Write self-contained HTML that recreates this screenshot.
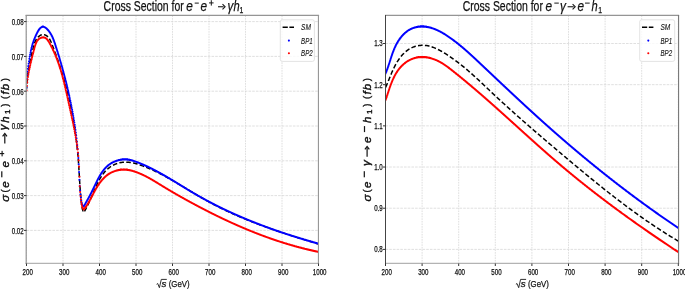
<!DOCTYPE html>
<html><head><meta charset="utf-8"><style>
html,body{margin:0;padding:0;background:#fff;}
svg{display:block;will-change:transform;}
text{font-family:"Liberation Sans", sans-serif;fill:#111;stroke:#111;stroke-width:0.25;}
.grid{stroke:#d8d8d8;stroke-width:0.8;stroke-dasharray:2.6 1.1;fill:none;}
.gridv{stroke:#d6d6d6;stroke-width:0.8;stroke-dasharray:1.6 1.0;fill:none;}
.spine{fill:none;stroke:#808080;stroke-width:1;}
.tick{stroke:#333;stroke-width:1;}
.sm{fill:none;stroke:#000;stroke-width:1.5;stroke-dasharray:4.6 2.3;}
.bp1{fill:none;stroke:#0000ff;stroke-width:2.1;stroke-linecap:round;}
.bp2{fill:none;stroke:#ff0000;stroke-width:2.1;stroke-linecap:round;}
.leg{fill:#fff;fill-opacity:0.8;stroke:#dcdcdc;stroke-width:0.8;}
.legdash{stroke:#000;stroke-width:1.6;stroke-dasharray:5.2 1.6;}
.sqrt{fill:none;stroke:#1a1a1a;stroke-width:0.9;}
</style></head><body>
<svg width="685" height="289" viewBox="0 0 685 289">
<defs>
<clipPath id="cl"><rect x="26.5" y="15.5" width="292.0" height="248.0"/></clipPath>
<clipPath id="cr"><rect x="385.5" y="15.5" width="293.0" height="248.0"/></clipPath>
</defs>
<rect width="685" height="289" fill="#fff"/>
<line x1="26.50" y1="15.5" x2="26.50" y2="263.5" class="gridv"/>
<line x1="63.00" y1="15.5" x2="63.00" y2="263.5" class="gridv"/>
<line x1="99.50" y1="15.5" x2="99.50" y2="263.5" class="gridv"/>
<line x1="136.00" y1="15.5" x2="136.00" y2="263.5" class="gridv"/>
<line x1="172.50" y1="15.5" x2="172.50" y2="263.5" class="gridv"/>
<line x1="209.00" y1="15.5" x2="209.00" y2="263.5" class="gridv"/>
<line x1="245.50" y1="15.5" x2="245.50" y2="263.5" class="gridv"/>
<line x1="282.00" y1="15.5" x2="282.00" y2="263.5" class="gridv"/>
<line x1="318.50" y1="15.5" x2="318.50" y2="263.5" class="gridv"/>
<line x1="26.5" y1="230.40" x2="318.5" y2="230.40" class="grid"/>
<line x1="26.5" y1="195.60" x2="318.5" y2="195.60" class="grid"/>
<line x1="26.5" y1="160.80" x2="318.5" y2="160.80" class="grid"/>
<line x1="26.5" y1="126.00" x2="318.5" y2="126.00" class="grid"/>
<line x1="26.5" y1="91.20" x2="318.5" y2="91.20" class="grid"/>
<line x1="26.5" y1="56.40" x2="318.5" y2="56.40" class="grid"/>
<line x1="26.5" y1="21.60" x2="318.5" y2="21.60" class="grid"/>
<line x1="385.50" y1="15.5" x2="385.50" y2="263.5" class="gridv"/>
<line x1="422.10" y1="15.5" x2="422.10" y2="263.5" class="gridv"/>
<line x1="458.70" y1="15.5" x2="458.70" y2="263.5" class="gridv"/>
<line x1="495.30" y1="15.5" x2="495.30" y2="263.5" class="gridv"/>
<line x1="531.90" y1="15.5" x2="531.90" y2="263.5" class="gridv"/>
<line x1="568.50" y1="15.5" x2="568.50" y2="263.5" class="gridv"/>
<line x1="605.10" y1="15.5" x2="605.10" y2="263.5" class="gridv"/>
<line x1="641.70" y1="15.5" x2="641.70" y2="263.5" class="gridv"/>
<line x1="678.30" y1="15.5" x2="678.30" y2="263.5" class="gridv"/>
<line x1="385.5" y1="249.40" x2="678.5" y2="249.40" class="grid"/>
<line x1="385.5" y1="208.22" x2="678.5" y2="208.22" class="grid"/>
<line x1="385.5" y1="167.04" x2="678.5" y2="167.04" class="grid"/>
<line x1="385.5" y1="125.86" x2="678.5" y2="125.86" class="grid"/>
<line x1="385.5" y1="84.68" x2="678.5" y2="84.68" class="grid"/>
<line x1="385.5" y1="43.50" x2="678.5" y2="43.50" class="grid"/>
<g clip-path="url(#cl)">
<polyline points="26.51,89.55 26.54,88.70 26.58,87.85 26.62,87.01 26.67,86.17 26.72,85.33 26.77,84.50 26.83,83.67 26.90,82.84 26.97,82.01 27.04,81.19 27.12,80.37 27.20,79.55 27.29,78.73 27.38,77.92 27.47,77.10 27.57,76.29 27.68,75.48 27.78,74.68 27.89,73.87 28.01,73.07 28.13,72.26 28.25,71.46 28.37,70.66 28.50,69.86 28.64,69.06 28.77,68.26 28.91,67.46 29.06,66.66 29.20,65.86 29.35,65.06 29.51,64.26 29.66,63.46 29.82,62.66 29.99,61.86 30.15,61.06 30.32,60.26 30.49,59.46 30.67,58.66 30.84,57.85 31.02,57.05 31.21,56.24 31.39,55.44 31.58,54.63 31.77,53.82 31.96,53.00 32.16,52.19 32.35,51.37 32.55,50.56 32.76,49.74 32.96,48.91 33.17,48.09 33.38,47.26 33.59,46.43 33.81,45.60 34.04,44.78 34.29,43.97 34.56,43.17 34.84,42.38 35.15,41.60 35.49,40.85 35.86,40.12 36.26,39.40 36.70,38.72 37.19,38.07 37.71,37.44 38.28,36.86 38.90,36.31 39.56,35.82 40.25,35.39 40.96,35.04 41.70,34.77 42.44,34.61 43.19,34.57 43.94,34.64 44.69,34.82 45.41,35.10 46.11,35.47 46.78,35.91 47.41,36.41 48.00,36.97 48.54,37.57 49.03,38.21 49.47,38.88 49.89,39.57 50.27,40.30 50.62,41.04 50.96,41.80 51.28,42.56 51.60,43.34 51.90,44.11 52.21,44.89 52.52,45.67 52.82,46.45 53.12,47.22 53.42,48.00 53.72,48.78 54.01,49.56 54.31,50.34 54.60,51.12 54.89,51.90 55.18,52.68 55.47,53.46 55.75,54.24 56.04,55.03 56.32,55.81 56.60,56.59 56.88,57.37 57.15,58.16 57.43,58.94 57.70,59.72 57.97,60.51 58.24,61.29 58.51,62.08 58.77,62.86 59.04,63.65 59.30,64.44 59.56,65.22 59.82,66.01 60.08,66.80 60.33,67.58 60.59,68.37 60.84,69.16 61.09,69.95 61.34,70.74 61.58,71.53 61.83,72.32 62.07,73.11 62.31,73.90 62.55,74.69 62.79,75.48 63.02,76.27 63.26,77.06 63.49,77.86 63.72,78.65 63.95,79.44 64.18,80.23 64.40,81.03 64.63,81.82 64.85,82.61 65.07,83.41 65.29,84.20 65.51,85.00 65.72,85.79 65.93,86.59 66.15,87.39 66.36,88.18 66.56,88.98 66.77,89.78 66.98,90.57 67.18,91.37 67.38,92.17 67.58,92.97 67.78,93.77 67.98,94.57 68.17,95.37 68.36,96.17 68.55,96.97 68.74,97.77 68.93,98.57 69.12,99.37 69.30,100.17 69.48,100.97 69.67,101.77 69.85,102.57 70.02,103.38 70.20,104.18 70.37,104.98 70.55,105.79 70.72,106.59 70.89,107.39 71.05,108.20 71.22,109.00 71.38,109.81 71.55,110.61 71.71,111.42 71.87,112.22 72.02,113.03 72.18,113.84 72.33,114.64 72.49,115.45 72.64,116.26 72.79,117.07 72.93,117.87 73.08,118.68 73.22,119.49 73.37,120.30 73.51,121.11 73.65,121.92 73.78,122.73 73.92,123.54 74.05,124.35 74.19,125.16 74.32,125.97 74.45,126.78 74.57,127.59 74.70,128.40 74.82,129.22 74.95,130.03 75.07,130.84 75.19,131.65 75.30,132.47 75.42,133.28 75.53,134.09 75.65,134.91 75.76,135.72 75.87,136.54 75.98,137.35 76.08,138.17 76.19,138.98 76.29,139.80 76.39,140.61 76.49,141.43 76.59,142.24 76.68,143.06 76.78,143.88 76.87,144.70 76.96,145.51 77.05,146.33 77.14,147.15 77.23,147.97 77.31,148.79 77.40,149.60 77.48,150.42 77.56,151.24 77.64,152.06 77.72,152.88 77.79,153.70 77.87,154.52 77.94,155.34 78.01,156.16 78.08,156.98 78.15,157.81 78.21,158.63 78.28,159.45 78.34,160.27 78.40,161.09 78.46,161.92 78.52,162.74 78.57,163.56 78.63,164.38 78.69,165.21 78.74,166.03 78.79,166.85 78.84,167.68 78.89,168.50 78.95,169.33 78.99,170.15 79.04,170.97 79.09,171.80 79.14,172.62 79.19,173.45 79.24,174.27 79.28,175.09 79.33,175.92 79.38,176.74 79.43,177.57 79.48,178.39 79.53,179.21 79.57,180.04 79.62,180.86 79.67,181.69 79.73,182.51 79.78,183.33 79.83,184.16 79.88,184.98 79.94,185.80 79.99,186.62 80.05,187.45 80.11,188.27 80.17,189.09 80.23,189.91 80.29,190.73 80.35,191.55 80.42,192.37 80.49,193.19 80.56,194.01 80.63,194.83 80.70,195.65 80.78,196.47 80.86,197.29 80.94,198.11 81.02,198.93 81.10,199.74 81.19,200.56 81.28,201.38 81.37,202.19 81.47,203.01 81.57,203.82 81.67,204.64 81.78,205.45 81.88,206.26 82.00,207.07 82.13,207.88 82.29,208.68 82.49,209.47 82.74,210.24 83.05,211.00 83.44,211.73 83.90,212.44 83.99,212.37 84.45,211.55 84.89,210.72 85.33,209.90 85.77,209.07 86.19,208.24 86.61,207.41 87.03,206.57 87.43,205.74 87.83,204.90 88.23,204.06 88.62,203.22 89.01,202.38 89.40,201.53 89.78,200.69 90.15,199.84 90.53,198.99 90.91,198.14 91.28,197.29 91.65,196.43 92.02,195.58 92.39,194.72 92.76,193.86 93.14,193.00 93.51,192.13 93.89,191.27 94.26,190.40 94.64,189.53 95.03,188.66 95.41,187.79 95.80,186.92 96.20,186.05 96.60,185.18 97.01,184.31 97.43,183.45 97.85,182.60 98.28,181.74 98.73,180.90 99.18,180.06 99.64,179.23 100.12,178.41 100.61,177.60 101.11,176.80 101.62,176.02 102.15,175.24 102.69,174.48 103.25,173.73 103.83,173.00 104.42,172.28 105.03,171.58 105.66,170.90 106.31,170.24 106.98,169.60 107.67,168.97 108.38,168.37 109.10,167.80 109.85,167.24 110.61,166.71 111.38,166.20 112.17,165.73 112.98,165.27 113.80,164.85 114.63,164.45 115.48,164.09 116.34,163.76 117.20,163.45 118.08,163.18 118.97,162.95 119.87,162.74 120.77,162.56 121.68,162.42 122.59,162.31 123.51,162.22 124.43,162.17 125.35,162.14 126.28,162.14 127.20,162.18 128.12,162.24 129.04,162.32 129.96,162.43 130.88,162.57 131.79,162.73 132.71,162.90 133.62,163.10 134.53,163.32 135.44,163.56 136.35,163.81 137.26,164.07 138.16,164.35 139.06,164.65 139.96,164.95 140.86,165.27 141.75,165.59 142.64,165.92 143.53,166.26 144.41,166.60 145.29,166.95 146.17,167.30 147.04,167.66 147.92,168.02 148.78,168.39 149.65,168.76 150.51,169.14 151.38,169.52 152.23,169.91 153.09,170.30 153.94,170.69 154.79,171.09 155.64,171.50 156.49,171.90 157.33,172.31 158.18,172.73 159.02,173.15 159.85,173.57 160.69,174.00 161.52,174.43 162.35,174.86 163.18,175.30 164.01,175.73 164.84,176.18 165.66,176.62 166.49,177.07 167.31,177.52 168.13,177.97 168.95,178.43 169.76,178.89 170.58,179.35 171.39,179.81 172.21,180.27 173.02,180.74 173.83,181.21 174.64,181.68 175.45,182.15 176.26,182.62 177.07,183.10 177.87,183.57 178.68,184.05 179.48,184.53 180.29,185.01 181.09,185.49 181.89,185.97 182.70,186.45 183.50,186.93 184.30,187.42 185.10,187.90 185.90,188.39 186.71,188.87 187.51,189.35 188.31,189.84 189.11,190.32 189.91,190.81 190.71,191.29 191.51,191.78 192.31,192.26 193.12,192.74 193.92,193.22 194.72,193.71 195.52,194.19 196.33,194.67 197.13,195.14 197.93,195.62 198.74,196.10 199.55,196.57 200.35,197.04 201.16,197.52 201.97,197.99 202.78,198.45 203.59,198.92 204.40,199.38 205.21,199.85 206.03,200.31 206.84,200.76 207.66,201.22 208.47,201.67 209.29,202.12 210.11,202.57 210.94,203.02 211.76,203.46 212.58,203.90 213.41,204.34 214.24,204.77 215.07,205.20 215.89,205.63 216.73,206.06 217.56,206.49 218.39,206.91 219.23,207.33 220.06,207.75 220.90,208.16 221.74,208.57 222.58,208.99 223.42,209.39 224.26,209.80 225.11,210.20 225.95,210.61 226.80,211.00 227.65,211.40 228.49,211.80 229.34,212.19 230.19,212.58 231.05,212.97 231.90,213.36 232.75,213.74 233.61,214.12 234.46,214.50 235.32,214.88 236.18,215.26 237.03,215.63 237.89,216.00 238.75,216.37 239.62,216.74 240.48,217.11 241.34,217.47 242.21,217.83 243.07,218.19 243.94,218.55 244.80,218.91 245.67,219.26 246.54,219.62 247.41,219.97 248.28,220.32 249.15,220.67 250.02,221.01 250.89,221.36 251.77,221.70 252.64,222.04 253.52,222.38 254.39,222.72 255.27,223.06 256.14,223.39 257.02,223.72 257.90,224.05 258.78,224.38 259.66,224.71 260.54,225.04 261.42,225.37 262.30,225.69 263.18,226.01 264.06,226.33 264.94,226.65 265.83,226.97 266.71,227.29 267.59,227.60 268.48,227.92 269.36,228.23 270.25,228.54 271.14,228.85 272.02,229.16 272.91,229.47 273.80,229.78 274.69,230.08 275.57,230.39 276.46,230.69 277.35,230.99 278.24,231.29 279.13,231.59 280.02,231.89 280.91,232.19 281.80,232.48 282.69,232.78 283.58,233.07 284.47,233.37 285.36,233.66 286.25,233.95 287.15,234.24 288.04,234.53 288.93,234.82 289.82,235.11 290.72,235.40 291.61,235.68 292.50,235.97 293.39,236.25 294.29,236.54 295.18,236.82 296.07,237.10 296.96,237.38 297.86,237.66 298.75,237.94 299.64,238.22 300.54,238.50 301.43,238.78 302.32,239.06 303.22,239.33 304.11,239.61 305.00,239.89 305.89,240.16 306.79,240.44 307.68,240.71 308.57,240.98 309.46,241.26 310.36,241.53 311.25,241.80 312.14,242.07 313.03,242.35 313.92,242.62 314.81,242.89 315.70,243.16 316.60,243.43 317.49,243.70 318.38,243.97" class="sm" stroke-dashoffset="1.11"/>
<path d="M26.51 87.51h0M26.86 78.88h0M27.23 74.87h0M27.59 71.65h0M27.96 68.80h0M28.32 66.16h0M28.69 63.64h0M29.05 61.19h0M29.42 58.84h0M29.79 56.61h0M30.15 54.54h0M30.52 52.62h0M30.88 50.84h0M31.25 49.21h0M31.61 47.70h0M31.98 46.31h0M32.34 45.01h0M32.70 43.81h0M33.07 42.68h0M33.44 41.61h0M33.80 40.60h0M34.16 39.63h0M34.53 38.71h0M34.89 37.82h0M35.26 36.96h0M35.62 36.14h0M35.99 35.33h0M36.36 34.55h0M36.72 33.79h0M37.09 33.05h0M37.45 32.34h0M37.81 31.66h0M38.18 31.02h0M38.55 30.41h0M38.91 29.85h0M39.27 29.34h0M39.64 28.86h0M40.00 28.44h0M40.37 28.06h0M40.73 27.73h0M41.10 27.45h0M41.47 27.22h0M41.83 27.04h0M42.20 26.90h0M42.56 26.82h0M42.92 26.79h0M43.29 26.81h0M43.66 26.87h0M44.02 26.97h0M44.38 27.11h0M44.75 27.29h0M45.12 27.50h0M45.48 27.74h0M45.84 28.00h0M46.21 28.30h0M46.58 28.62h0M46.94 28.97h0M47.30 29.34h0M47.67 29.73h0M48.03 30.15h0M48.40 30.59h0M48.77 31.05h0M49.13 31.53h0M49.50 32.04h0M49.86 32.57h0M50.23 33.12h0M50.59 33.70h0M50.95 34.31h0M51.32 34.95h0M51.69 35.63h0M52.05 36.35h0M52.41 37.11h0M52.78 37.92h0M53.14 38.78h0M53.51 39.70h0M53.88 40.67h0M54.24 41.69h0M54.61 42.76h0M54.97 43.87h0M55.34 44.98h0M55.70 46.11h0M56.06 47.24h0M56.43 48.38h0M56.80 49.53h0M57.16 50.69h0M57.52 51.86h0M57.89 53.03h0M58.25 54.22h0M58.62 55.41h0M58.98 56.61h0M59.35 57.82h0M59.72 59.05h0M60.08 60.28h0M60.45 61.52h0M60.81 62.77h0M61.17 64.04h0M61.54 65.31h0M61.91 66.60h0M62.27 67.90h0M62.63 69.21h0M63.00 70.54h0M63.37 71.88h0M63.73 73.23h0M64.09 74.60h0M64.46 75.98h0M64.83 77.38h0M65.19 78.79h0M65.56 80.22h0M65.92 81.67h0M66.28 83.13h0M66.65 84.62h0M67.02 86.12h0M67.38 87.65h0M67.75 89.19h0M68.11 90.76h0M68.47 92.35h0M68.84 93.97h0M69.20 95.61h0M69.57 97.28h0M69.94 98.98h0M70.30 100.71h0M70.66 102.47h0M71.03 104.27h0M71.39 106.11h0M71.76 107.98h0M72.12 109.90h0M72.49 111.87h0M72.86 113.89h0M73.22 115.96h0M73.59 118.09h0M73.95 120.29h0M74.31 122.56h0M74.68 124.91h0M75.05 127.35h0M75.41 129.90h0M75.78 132.57h0M76.14 135.38h0M76.50 138.36h0M76.87 141.55h0M77.23 144.99h0M77.60 148.77h0M77.97 153.02h0M78.33 158.00h0M78.69 164.27h0M79.06 172.11h0M79.42 179.85h0M79.79 185.96h0M80.16 190.66h0M80.52 194.44h0M80.88 197.60h0M81.25 200.32h0M81.62 202.70h0M81.98 204.25h0M82.34 205.15h0M82.71 205.76h0M83.08 206.20h0M83.44 206.55h0M83.81 206.54h0M84.17 205.90h0M84.53 205.24h0M84.90 204.58h0M85.27 203.93h0M85.63 203.27h0M86.00 202.62h0M86.36 201.96h0M86.72 201.31h0M87.09 200.66h0M87.45 200.00h0M87.82 199.34h0M88.19 198.68h0M88.55 198.02h0M88.91 197.35h0M89.28 196.68h0M89.64 196.00h0M90.01 195.32h0M90.38 194.63h0M90.74 193.94h0M91.11 193.24h0M91.47 192.53h0M91.84 191.82h0M92.20 191.09h0M92.56 190.35h0M92.93 189.61h0M93.30 188.86h0M93.66 188.10h0M94.03 187.33h0M94.39 186.56h0M94.76 185.80h0M95.12 185.03h0M95.48 184.26h0M95.85 183.50h0M96.22 182.75h0M96.58 182.00h0M96.94 181.26h0M97.31 180.53h0M97.67 179.82h0M98.04 179.11h0M98.41 178.42h0M98.77 177.74h0M99.14 177.07h0M99.50 176.42h0M99.86 175.79h0M100.23 175.17h0M100.59 174.57h0M100.96 173.98h0M101.32 173.41h0M101.69 172.85h0M102.05 172.31h0M102.42 171.79h0M102.78 171.28h0M103.15 170.79h0M103.52 170.31h0M103.88 169.85h0M104.24 169.40h0M104.61 168.97h0M104.97 168.55h0M105.34 168.15h0M105.70 167.75h0M106.07 167.38h0M106.44 167.01h0M106.80 166.66h0M107.16 166.32h0M107.53 165.99h0M107.89 165.67h0M108.26 165.36h0M108.62 165.07h0M108.99 164.79h0M109.36 164.51h0M109.72 164.25h0M110.09 164.00h0M110.45 163.75h0M110.81 163.52h0M111.18 163.29h0M111.55 163.08h0M111.91 162.87h0M112.28 162.67h0M112.64 162.47h0M113.01 162.29h0M113.37 162.11h0M113.73 161.93h0M114.10 161.77h0M114.47 161.61h0M114.83 161.46h0M115.20 161.31h0M115.56 161.17h0M115.93 161.04h0M116.29 160.91h0M116.66 160.79h0M117.02 160.67h0M117.39 160.56h0M117.75 160.45h0M118.11 160.35h0M118.48 160.26h0M118.84 160.17h0M119.21 160.09h0M119.57 160.01h0M119.94 159.94h0M120.30 159.87h0M120.67 159.81h0M121.03 159.75h0M121.40 159.70h0M121.77 159.65h0M122.13 159.61h0M122.49 159.57h0M122.86 159.54h0M123.22 159.51h0M123.59 159.49h0M123.95 159.48h0M124.32 159.47h0M124.69 159.46h0M125.05 159.46h0M125.41 159.47h0M125.78 159.48h0M126.14 159.49h0M126.51 159.52h0M126.88 159.54h0M127.24 159.58h0M127.61 159.61h0M127.97 159.66h0M128.34 159.71h0M128.70 159.76h0M129.06 159.82h0M129.43 159.88h0M129.80 159.95h0M130.16 160.03h0M130.53 160.10h0M130.89 160.18h0M131.25 160.27h0M131.62 160.36h0M131.99 160.46h0M132.35 160.55h0M132.72 160.66h0M133.08 160.76h0M133.44 160.87h0M133.81 160.98h0M134.18 161.10h0M134.54 161.22h0M134.91 161.34h0M135.27 161.47h0M135.63 161.59h0M136.00 161.72h0M136.37 161.86h0M136.73 161.99h0M137.09 162.13h0M137.46 162.27h0M137.82 162.41h0M138.19 162.55h0M138.56 162.69h0M138.92 162.84h0M139.28 162.98h0M139.65 163.13h0M140.01 163.28h0M140.38 163.43h0M140.75 163.58h0M141.11 163.73h0M141.47 163.89h0M141.84 164.04h0M142.20 164.20h0M142.57 164.36h0M142.94 164.51h0M143.30 164.67h0M143.66 164.83h0M144.03 164.99h0M144.39 165.16h0M144.76 165.32h0M145.12 165.48h0M145.49 165.65h0M145.86 165.82h0M146.22 165.99h0M146.59 166.15h0M146.95 166.32h0M147.31 166.50h0M147.68 166.67h0M148.05 166.84h0M148.41 167.01h0M148.78 167.19h0M149.14 167.37h0M149.50 167.54h0M149.87 167.72h0M150.24 167.90h0M150.60 168.08h0M150.97 168.26h0M151.33 168.44h0M151.69 168.63h0M152.06 168.81h0M152.43 169.00h0M152.79 169.18h0M153.16 169.37h0M153.52 169.56h0M153.88 169.75h0M154.25 169.94h0M154.61 170.13h0M154.98 170.32h0M155.34 170.51h0M155.71 170.70h0M156.07 170.90h0M156.44 171.09h0M156.81 171.29h0M157.17 171.48h0M157.53 171.68h0M157.90 171.88h0M158.26 172.08h0M158.63 172.28h0M159.00 172.48h0M159.36 172.68h0M159.72 172.88h0M160.09 173.08h0M160.45 173.29h0M160.82 173.49h0M161.19 173.70h0M161.55 173.90h0M161.91 174.11h0M162.28 174.31h0M162.65 174.52h0M163.01 174.73h0M163.38 174.94h0M163.74 175.15h0M164.10 175.36h0M164.47 175.57h0M164.84 175.78h0M165.20 175.99h0M165.56 176.20h0M165.93 176.41h0M166.30 176.63h0M166.66 176.84h0M167.03 177.06h0M167.39 177.27h0M167.75 177.49h0M168.12 177.70h0M168.49 177.92h0M168.85 178.14h0M169.22 178.35h0M169.58 178.57h0M169.94 178.79h0M170.31 179.01h0M170.68 179.22h0M171.04 179.44h0M171.41 179.66h0M171.77 179.88h0M172.14 180.10h0M172.50 180.32h0M172.86 180.54h0M173.23 180.77h0M173.59 180.99h0M173.96 181.21h0M174.32 181.43h0M174.69 181.65h0M175.06 181.87h0M175.42 182.10h0M175.78 182.32h0M176.15 182.54h0M176.52 182.76h0M176.88 182.99h0M177.25 183.21h0M177.61 183.43h0M177.98 183.66h0M178.34 183.88h0M178.70 184.10h0M179.07 184.33h0M179.44 184.55h0M179.80 184.78h0M180.16 185.00h0M180.53 185.22h0M180.90 185.45h0M181.26 185.67h0M181.62 185.89h0M181.99 186.12h0M182.35 186.34h0M182.72 186.56h0M183.09 186.79h0M183.45 187.01h0M183.81 187.23h0M184.18 187.46h0M184.55 187.68h0M184.91 187.90h0M185.27 188.12h0M185.64 188.35h0M186.00 188.57h0M186.37 188.79h0M186.73 189.01h0M187.10 189.23h0M187.47 189.46h0M187.83 189.68h0M188.19 189.90h0M188.56 190.12h0M188.93 190.34h0M189.29 190.56h0M189.66 190.78h0M190.02 190.99h0M190.39 191.21h0M190.75 191.43h0M191.11 191.65h0M191.48 191.87h0M191.84 192.08h0M192.21 192.30h0M192.57 192.51h0M192.94 192.73h0M193.31 192.94h0M193.67 193.16h0M194.03 193.37h0M194.40 193.59h0M194.77 193.80h0M195.13 194.01h0M195.50 194.22h0M195.86 194.44h0M196.23 194.65h0M196.59 194.86h0M196.95 195.07h0M197.32 195.27h0M197.69 195.48h0M198.05 195.69h0M198.41 195.90h0M198.78 196.11h0M199.15 196.31h0M199.51 196.52h0M199.88 196.72h0M200.24 196.93h0M200.60 197.13h0M200.97 197.34h0M201.34 197.54h0M201.70 197.74h0M202.06 197.95h0M202.43 198.15h0M202.80 198.35h0M203.16 198.55h0M203.52 198.75h0M203.89 198.95h0M204.25 199.15h0M204.62 199.35h0M204.98 199.55h0M205.35 199.74h0M205.72 199.94h0M206.08 200.14h0M206.44 200.33h0M206.81 200.53h0M207.18 200.73h0M207.54 200.92h0M207.91 201.12h0M208.27 201.31h0M208.64 201.50h0M209.00 201.70h0M209.36 201.89h0M209.73 202.08h0M210.09 202.27h0M210.46 202.46h0M210.82 202.65h0M211.19 202.84h0M211.56 203.03h0M211.92 203.22h0M212.28 203.41h0M212.65 203.60h0M213.02 203.79h0M213.38 203.97h0M213.75 204.16h0M214.11 204.35h0M214.48 204.53h0M214.84 204.72h0M215.20 204.90h0M215.57 205.09h0M215.94 205.27h0M216.30 205.46h0M216.66 205.64h0M217.03 205.82h0M217.40 206.00h0M217.76 206.19h0M218.12 206.37h0M218.49 206.55h0M218.85 206.73h0M219.22 206.91h0M219.59 207.09h0M219.95 207.27h0M220.31 207.45h0M220.68 207.63h0M221.05 207.80h0M221.41 207.98h0M221.77 208.16h0M222.14 208.34h0M222.50 208.51h0M222.87 208.69h0M223.23 208.86h0M223.60 209.04h0M223.97 209.21h0M224.33 209.39h0M224.69 209.56h0M225.06 209.74h0M225.43 209.91h0M225.79 210.08h0M226.16 210.25h0M226.52 210.43h0M226.89 210.60h0M227.25 210.77h0M227.61 210.94h0M227.98 211.11h0M228.34 211.28h0M228.71 211.45h0M229.07 211.62h0M229.44 211.79h0M229.81 211.95h0M230.17 212.12h0M230.53 212.29h0M230.90 212.46h0M231.27 212.62h0M231.63 212.79h0M232.00 212.95h0M232.36 213.12h0M232.73 213.28h0M233.09 213.45h0M233.45 213.61h0M233.82 213.78h0M234.19 213.94h0M234.55 214.10h0M234.91 214.27h0M235.28 214.43h0M235.65 214.59h0M236.01 214.75h0M236.38 214.91h0M236.74 215.08h0M237.10 215.24h0M237.47 215.40h0M237.84 215.56h0M238.20 215.72h0M238.56 215.87h0M238.93 216.03h0M239.30 216.19h0M239.66 216.35h0M240.02 216.51h0M240.39 216.66h0M240.75 216.82h0M241.12 216.98h0M241.48 217.13h0M241.85 217.29h0M242.22 217.45h0M242.58 217.60h0M242.94 217.76h0M243.31 217.91h0M243.68 218.06h0M244.04 218.22h0M244.41 218.37h0M244.77 218.52h0M245.14 218.68h0M245.50 218.83h0M245.86 218.98h0M246.23 219.13h0M246.59 219.28h0M246.96 219.44h0M247.32 219.59h0M247.69 219.74h0M248.06 219.89h0M248.42 220.04h0M248.78 220.19h0M249.15 220.33h0M249.52 220.48h0M249.88 220.63h0M250.25 220.78h0M250.61 220.93h0M250.98 221.07h0M251.34 221.22h0M251.70 221.37h0M252.07 221.52h0M252.44 221.66h0M252.80 221.81h0M253.16 221.95h0M253.53 222.10h0M253.90 222.24h0M254.26 222.39h0M254.62 222.53h0M254.99 222.67h0M255.35 222.82h0M255.72 222.96h0M256.09 223.10h0M256.45 223.25h0M256.81 223.39h0M257.18 223.53h0M257.55 223.67h0M257.91 223.81h0M258.27 223.95h0M258.64 224.10h0M259.00 224.24h0M259.37 224.38h0M259.74 224.52h0M260.10 224.66h0M260.47 224.79h0M260.83 224.93h0M261.19 225.07h0M261.56 225.21h0M261.93 225.35h0M262.29 225.49h0M262.65 225.62h0M263.02 225.76h0M263.38 225.90h0M263.75 226.03h0M264.12 226.17h0M264.48 226.31h0M264.85 226.44h0M265.21 226.58h0M265.57 226.71h0M265.94 226.85h0M266.31 226.98h0M266.67 227.12h0M267.03 227.25h0M267.40 227.38h0M267.76 227.52h0M268.13 227.65h0M268.50 227.78h0M268.86 227.91h0M269.23 228.05h0M269.59 228.18h0M269.95 228.31h0M270.32 228.44h0M270.69 228.57h0M271.05 228.70h0M271.41 228.83h0M271.78 228.97h0M272.14 229.10h0M272.51 229.22h0M272.88 229.35h0M273.24 229.48h0M273.61 229.61h0M273.97 229.74h0M274.34 229.87h0M274.70 230.00h0M275.06 230.13h0M275.43 230.25h0M275.80 230.38h0M276.16 230.51h0M276.52 230.63h0M276.89 230.76h0M277.25 230.89h0M277.62 231.01h0M277.99 231.14h0M278.35 231.26h0M278.72 231.39h0M279.08 231.52h0M279.44 231.64h0M279.81 231.76h0M280.18 231.89h0M280.54 232.01h0M280.90 232.14h0M281.27 232.26h0M281.63 232.38h0M282.00 232.51h0M282.37 232.63h0M282.73 232.75h0M283.10 232.87h0M283.46 233.00h0M283.82 233.12h0M284.19 233.24h0M284.56 233.36h0M284.92 233.48h0M285.28 233.60h0M285.65 233.72h0M286.01 233.84h0M286.38 233.96h0M286.75 234.08h0M287.11 234.20h0M287.48 234.32h0M287.84 234.44h0M288.20 234.56h0M288.57 234.68h0M288.94 234.80h0M289.30 234.91h0M289.67 235.03h0M290.03 235.15h0M290.40 235.27h0M290.76 235.39h0M291.12 235.50h0M291.49 235.62h0M291.85 235.74h0M292.22 235.85h0M292.58 235.97h0M292.95 236.08h0M293.31 236.20h0M293.68 236.31h0M294.05 236.43h0M294.41 236.55h0M294.77 236.66h0M295.14 236.77h0M295.50 236.89h0M295.87 237.00h0M296.24 237.12h0M296.60 237.23h0M296.97 237.34h0M297.33 237.46h0M297.69 237.57h0M298.06 237.68h0M298.43 237.80h0M298.79 237.91h0M299.15 238.02h0M299.52 238.13h0M299.88 238.24h0M300.25 238.35h0M300.62 238.47h0M300.98 238.58h0M301.35 238.69h0M301.71 238.80h0M302.07 238.91h0M302.44 239.02h0M302.81 239.13h0M303.17 239.24h0M303.53 239.35h0M303.90 239.46h0M304.26 239.57h0M304.63 239.68h0M305.00 239.78h0M305.36 239.89h0M305.73 240.00h0M306.09 240.11h0M306.45 240.22h0M306.82 240.33h0M307.19 240.43h0M307.55 240.54h0M307.92 240.65h0M308.28 240.75h0M308.65 240.86h0M309.01 240.97h0M309.38 241.07h0M309.74 241.18h0M310.10 241.29h0M310.47 241.39h0M310.83 241.50h0M311.20 241.60h0M311.56 241.71h0M311.93 241.81h0M312.30 241.92h0M312.66 242.02h0M313.02 242.13h0M313.39 242.23h0M313.75 242.34h0M314.12 242.44h0M314.49 242.54h0M314.85 242.65h0M315.22 242.75h0M315.58 242.85h0M315.94 242.96h0M316.31 243.06h0M316.68 243.16h0M317.04 243.26h0M317.40 243.37h0M317.77 243.47h0M318.13 243.57h0M318.44 243.66h0" class="bp1"/>
<path d="M26.51 90.57h0M26.86 85.84h0M27.23 82.38h0M27.59 79.53h0M27.96 77.03h0M28.32 74.78h0M28.69 72.69h0M29.05 70.75h0M29.42 68.90h0M29.79 67.14h0M30.15 65.45h0M30.52 63.82h0M30.88 62.24h0M31.25 60.69h0M31.61 59.19h0M31.98 57.71h0M32.34 56.25h0M32.70 54.82h0M33.07 53.40h0M33.44 52.00h0M33.80 50.61h0M34.16 49.23h0M34.53 47.86h0M34.89 46.51h0M35.26 45.25h0M35.62 44.15h0M35.99 43.19h0M36.36 42.37h0M36.72 41.67h0M37.09 41.06h0M37.45 40.53h0M37.81 40.08h0M38.18 39.68h0M38.55 39.33h0M38.91 39.02h0M39.27 38.75h0M39.64 38.51h0M40.00 38.30h0M40.37 38.12h0M40.73 37.95h0M41.10 37.81h0M41.47 37.69h0M41.83 37.59h0M42.20 37.51h0M42.56 37.46h0M42.92 37.43h0M43.29 37.42h0M43.66 37.44h0M44.02 37.50h0M44.38 37.58h0M44.75 37.70h0M45.12 37.86h0M45.48 38.05h0M45.84 38.29h0M46.21 38.56h0M46.58 38.88h0M46.94 39.24h0M47.30 39.65h0M47.67 40.10h0M48.03 40.59h0M48.40 41.13h0M48.77 41.71h0M49.13 42.33h0M49.50 42.97h0M49.86 43.63h0M50.23 44.31h0M50.59 45.00h0M50.95 45.70h0M51.32 46.41h0M51.69 47.13h0M52.05 47.86h0M52.41 48.61h0M52.78 49.37h0M53.14 50.15h0M53.51 50.93h0M53.88 51.74h0M54.24 52.55h0M54.61 53.39h0M54.97 54.24h0M55.34 55.10h0M55.70 55.99h0M56.06 56.89h0M56.43 57.81h0M56.80 58.75h0M57.16 59.71h0M57.52 60.69h0M57.89 61.69h0M58.25 62.72h0M58.62 63.76h0M58.98 64.84h0M59.35 65.93h0M59.72 67.05h0M60.08 68.20h0M60.45 69.37h0M60.81 70.58h0M61.17 71.81h0M61.54 73.07h0M61.91 74.36h0M62.27 75.68h0M62.63 77.02h0M63.00 78.40h0M63.37 79.81h0M63.73 81.26h0M64.09 82.73h0M64.46 84.22h0M64.83 85.75h0M65.19 87.30h0M65.56 88.88h0M65.92 90.48h0M66.28 92.09h0M66.65 93.73h0M67.02 95.37h0M67.38 97.03h0M67.75 98.69h0M68.11 100.35h0M68.47 102.01h0M68.84 103.67h0M69.20 105.32h0M69.57 106.96h0M69.94 108.61h0M70.30 110.26h0M70.66 111.92h0M71.03 113.58h0M71.39 115.25h0M71.76 116.94h0M72.12 118.64h0M72.49 120.35h0M72.86 122.09h0M73.22 123.85h0M73.59 125.64h0M73.95 127.46h0M74.31 129.32h0M74.68 131.22h0M75.05 133.17h0M75.41 135.18h0M75.78 137.26h0M76.14 139.43h0M76.50 141.70h0M76.87 144.09h0M77.23 146.64h0M77.60 149.41h0M77.97 152.47h0M78.33 156.00h0M78.69 160.36h0M79.06 166.67h0M79.42 176.79h0M79.79 186.19h0M80.16 191.99h0M80.52 196.06h0M80.88 199.23h0M81.25 201.87h0M81.62 204.13h0M81.98 205.93h0M82.34 207.13h0M82.71 207.97h0M83.08 208.60h0M83.44 209.10h0M83.81 209.44h0M84.17 209.04h0M84.53 208.59h0M84.90 208.13h0M85.27 207.66h0M85.63 207.17h0M86.00 206.66h0M86.36 206.14h0M86.72 205.60h0M87.09 205.04h0M87.45 204.47h0M87.82 203.89h0M88.19 203.29h0M88.55 202.67h0M88.91 202.04h0M89.28 201.39h0M89.64 200.74h0M90.01 200.07h0M90.38 199.39h0M90.74 198.70h0M91.11 198.00h0M91.47 197.30h0M91.84 196.59h0M92.20 195.88h0M92.56 195.17h0M92.93 194.46h0M93.30 193.76h0M93.66 193.06h0M94.03 192.36h0M94.39 191.68h0M94.76 191.00h0M95.12 190.34h0M95.48 189.68h0M95.85 189.04h0M96.22 188.41h0M96.58 187.80h0M96.94 187.19h0M97.31 186.60h0M97.67 186.02h0M98.04 185.46h0M98.41 184.91h0M98.77 184.37h0M99.14 183.84h0M99.50 183.33h0M99.86 182.82h0M100.23 182.33h0M100.59 181.86h0M100.96 181.39h0M101.32 180.94h0M101.69 180.49h0M102.05 180.06h0M102.42 179.64h0M102.78 179.24h0M103.15 178.84h0M103.52 178.45h0M103.88 178.08h0M104.24 177.71h0M104.61 177.36h0M104.97 177.01h0M105.34 176.68h0M105.70 176.36h0M106.07 176.04h0M106.44 175.74h0M106.80 175.45h0M107.16 175.16h0M107.53 174.89h0M107.89 174.62h0M108.26 174.36h0M108.62 174.11h0M108.99 173.88h0M109.36 173.64h0M109.72 173.42h0M110.09 173.21h0M110.45 173.00h0M110.81 172.81h0M111.18 172.62h0M111.55 172.43h0M111.91 172.26h0M112.28 172.09h0M112.64 171.93h0M113.01 171.77h0M113.37 171.63h0M113.73 171.48h0M114.10 171.35h0M114.47 171.22h0M114.83 171.09h0M115.20 170.98h0M115.56 170.86h0M115.93 170.76h0M116.29 170.66h0M116.66 170.56h0M117.02 170.47h0M117.39 170.38h0M117.75 170.30h0M118.11 170.23h0M118.48 170.16h0M118.84 170.09h0M119.21 170.03h0M119.57 169.98h0M119.94 169.92h0M120.30 169.88h0M120.67 169.84h0M121.03 169.80h0M121.40 169.77h0M121.77 169.74h0M122.13 169.72h0M122.49 169.70h0M122.86 169.68h0M123.22 169.68h0M123.59 169.67h0M123.95 169.67h0M124.32 169.67h0M124.69 169.68h0M125.05 169.70h0M125.41 169.71h0M125.78 169.74h0M126.14 169.76h0M126.51 169.80h0M126.88 169.83h0M127.24 169.87h0M127.61 169.92h0M127.97 169.97h0M128.34 170.02h0M128.70 170.08h0M129.06 170.14h0M129.43 170.20h0M129.80 170.27h0M130.16 170.35h0M130.53 170.43h0M130.89 170.51h0M131.25 170.59h0M131.62 170.68h0M131.99 170.78h0M132.35 170.87h0M132.72 170.97h0M133.08 171.07h0M133.44 171.18h0M133.81 171.29h0M134.18 171.40h0M134.54 171.52h0M134.91 171.64h0M135.27 171.76h0M135.63 171.89h0M136.00 172.01h0M136.37 172.15h0M136.73 172.28h0M137.09 172.42h0M137.46 172.55h0M137.82 172.70h0M138.19 172.84h0M138.56 172.99h0M138.92 173.13h0M139.28 173.29h0M139.65 173.44h0M140.01 173.59h0M140.38 173.75h0M140.75 173.91h0M141.11 174.07h0M141.47 174.24h0M141.84 174.40h0M142.20 174.57h0M142.57 174.74h0M142.94 174.91h0M143.30 175.09h0M143.66 175.26h0M144.03 175.44h0M144.39 175.62h0M144.76 175.80h0M145.12 175.98h0M145.49 176.17h0M145.86 176.36h0M146.22 176.55h0M146.59 176.74h0M146.95 176.93h0M147.31 177.12h0M147.68 177.32h0M148.05 177.52h0M148.41 177.71h0M148.78 177.91h0M149.14 178.12h0M149.50 178.32h0M149.87 178.52h0M150.24 178.73h0M150.60 178.94h0M150.97 179.14h0M151.33 179.35h0M151.69 179.56h0M152.06 179.78h0M152.43 179.99h0M152.79 180.20h0M153.16 180.42h0M153.52 180.63h0M153.88 180.85h0M154.25 181.07h0M154.61 181.29h0M154.98 181.51h0M155.34 181.73h0M155.71 181.95h0M156.07 182.17h0M156.44 182.39h0M156.81 182.61h0M157.17 182.83h0M157.53 183.06h0M157.90 183.28h0M158.26 183.50h0M158.63 183.73h0M159.00 183.95h0M159.36 184.18h0M159.72 184.40h0M160.09 184.63h0M160.45 184.85h0M160.82 185.07h0M161.19 185.30h0M161.55 185.52h0M161.91 185.75h0M162.28 185.97h0M162.65 186.19h0M163.01 186.41h0M163.38 186.64h0M163.74 186.86h0M164.10 187.08h0M164.47 187.30h0M164.84 187.52h0M165.20 187.74h0M165.56 187.96h0M165.93 188.18h0M166.30 188.40h0M166.66 188.62h0M167.03 188.84h0M167.39 189.06h0M167.75 189.28h0M168.12 189.49h0M168.49 189.71h0M168.85 189.93h0M169.22 190.14h0M169.58 190.36h0M169.94 190.57h0M170.31 190.79h0M170.68 191.00h0M171.04 191.22h0M171.41 191.43h0M171.77 191.65h0M172.14 191.86h0M172.50 192.07h0M172.86 192.29h0M173.23 192.50h0M173.59 192.71h0M173.96 192.92h0M174.32 193.13h0M174.69 193.35h0M175.06 193.56h0M175.42 193.77h0M175.78 193.98h0M176.15 194.19h0M176.52 194.40h0M176.88 194.61h0M177.25 194.81h0M177.61 195.02h0M177.98 195.23h0M178.34 195.44h0M178.70 195.65h0M179.07 195.85h0M179.44 196.06h0M179.80 196.27h0M180.16 196.47h0M180.53 196.68h0M180.90 196.89h0M181.26 197.09h0M181.62 197.30h0M181.99 197.50h0M182.35 197.71h0M182.72 197.91h0M183.09 198.11h0M183.45 198.32h0M183.81 198.52h0M184.18 198.72h0M184.55 198.93h0M184.91 199.13h0M185.27 199.33h0M185.64 199.53h0M186.00 199.74h0M186.37 199.94h0M186.73 200.14h0M187.10 200.34h0M187.47 200.54h0M187.83 200.74h0M188.19 200.94h0M188.56 201.14h0M188.93 201.34h0M189.29 201.54h0M189.66 201.74h0M190.02 201.94h0M190.39 202.14h0M190.75 202.33h0M191.11 202.53h0M191.48 202.73h0M191.84 202.93h0M192.21 203.12h0M192.57 203.32h0M192.94 203.52h0M193.31 203.71h0M193.67 203.91h0M194.03 204.11h0M194.40 204.30h0M194.77 204.50h0M195.13 204.69h0M195.50 204.89h0M195.86 205.08h0M196.23 205.28h0M196.59 205.47h0M196.95 205.67h0M197.32 205.86h0M197.69 206.05h0M198.05 206.25h0M198.41 206.44h0M198.78 206.63h0M199.15 206.82h0M199.51 207.01h0M199.88 207.21h0M200.24 207.40h0M200.60 207.59h0M200.97 207.78h0M201.34 207.97h0M201.70 208.16h0M202.06 208.35h0M202.43 208.54h0M202.80 208.73h0M203.16 208.92h0M203.52 209.11h0M203.89 209.30h0M204.25 209.49h0M204.62 209.67h0M204.98 209.86h0M205.35 210.05h0M205.72 210.24h0M206.08 210.42h0M206.44 210.61h0M206.81 210.80h0M207.18 210.98h0M207.54 211.17h0M207.91 211.35h0M208.27 211.54h0M208.64 211.72h0M209.00 211.91h0M209.36 212.09h0M209.73 212.28h0M210.09 212.46h0M210.46 212.65h0M210.82 212.83h0M211.19 213.01h0M211.56 213.19h0M211.92 213.38h0M212.28 213.56h0M212.65 213.74h0M213.02 213.92h0M213.38 214.10h0M213.75 214.28h0M214.11 214.46h0M214.48 214.64h0M214.84 214.82h0M215.20 215.00h0M215.57 215.18h0M215.94 215.36h0M216.30 215.54h0M216.66 215.72h0M217.03 215.90h0M217.40 216.08h0M217.76 216.25h0M218.12 216.43h0M218.49 216.61h0M218.85 216.79h0M219.22 216.96h0M219.59 217.14h0M219.95 217.31h0M220.31 217.49h0M220.68 217.66h0M221.05 217.84h0M221.41 218.01h0M221.77 218.19h0M222.14 218.36h0M222.50 218.54h0M222.87 218.71h0M223.23 218.88h0M223.60 219.05h0M223.97 219.23h0M224.33 219.40h0M224.69 219.57h0M225.06 219.74h0M225.43 219.91h0M225.79 220.08h0M226.16 220.25h0M226.52 220.42h0M226.89 220.59h0M227.25 220.76h0M227.61 220.93h0M227.98 221.10h0M228.34 221.27h0M228.71 221.44h0M229.07 221.61h0M229.44 221.77h0M229.81 221.94h0M230.17 222.11h0M230.53 222.28h0M230.90 222.44h0M231.27 222.61h0M231.63 222.77h0M232.00 222.94h0M232.36 223.10h0M232.73 223.27h0M233.09 223.43h0M233.45 223.60h0M233.82 223.76h0M234.19 223.92h0M234.55 224.09h0M234.91 224.25h0M235.28 224.41h0M235.65 224.57h0M236.01 224.74h0M236.38 224.90h0M236.74 225.06h0M237.10 225.22h0M237.47 225.38h0M237.84 225.54h0M238.20 225.70h0M238.56 225.86h0M238.93 226.02h0M239.30 226.18h0M239.66 226.33h0M240.02 226.49h0M240.39 226.65h0M240.75 226.81h0M241.12 226.96h0M241.48 227.12h0M241.85 227.28h0M242.22 227.43h0M242.58 227.59h0M242.94 227.74h0M243.31 227.90h0M243.68 228.05h0M244.04 228.21h0M244.41 228.36h0M244.77 228.52h0M245.14 228.67h0M245.50 228.82h0M245.86 228.98h0M246.23 229.13h0M246.59 229.28h0M246.96 229.43h0M247.32 229.58h0M247.69 229.73h0M248.06 229.88h0M248.42 230.03h0M248.78 230.18h0M249.15 230.33h0M249.52 230.48h0M249.88 230.63h0M250.25 230.78h0M250.61 230.93h0M250.98 231.08h0M251.34 231.22h0M251.70 231.37h0M252.07 231.52h0M252.44 231.66h0M252.80 231.81h0M253.16 231.95h0M253.53 232.10h0M253.90 232.24h0M254.26 232.39h0M254.62 232.53h0M254.99 232.68h0M255.35 232.82h0M255.72 232.96h0M256.09 233.11h0M256.45 233.25h0M256.81 233.39h0M257.18 233.53h0M257.55 233.67h0M257.91 233.81h0M258.27 233.96h0M258.64 234.10h0M259.00 234.24h0M259.37 234.38h0M259.74 234.51h0M260.10 234.65h0M260.47 234.79h0M260.83 234.93h0M261.19 235.07h0M261.56 235.20h0M261.93 235.34h0M262.29 235.48h0M262.65 235.61h0M263.02 235.75h0M263.38 235.89h0M263.75 236.02h0M264.12 236.16h0M264.48 236.29h0M264.85 236.42h0M265.21 236.56h0M265.57 236.69h0M265.94 236.82h0M266.31 236.96h0M266.67 237.09h0M267.03 237.22h0M267.40 237.35h0M267.76 237.48h0M268.13 237.61h0M268.50 237.74h0M268.86 237.87h0M269.23 238.00h0M269.59 238.13h0M269.95 238.26h0M270.32 238.39h0M270.69 238.52h0M271.05 238.65h0M271.41 238.77h0M271.78 238.90h0M272.14 239.03h0M272.51 239.15h0M272.88 239.28h0M273.24 239.41h0M273.61 239.53h0M273.97 239.66h0M274.34 239.78h0M274.70 239.90h0M275.06 240.03h0M275.43 240.15h0M275.80 240.27h0M276.16 240.40h0M276.52 240.52h0M276.89 240.64h0M277.25 240.76h0M277.62 240.88h0M277.99 241.00h0M278.35 241.12h0M278.72 241.24h0M279.08 241.36h0M279.44 241.48h0M279.81 241.60h0M280.18 241.72h0M280.54 241.84h0M280.90 241.95h0M281.27 242.07h0M281.63 242.19h0M282.00 242.30h0M282.37 242.42h0M282.73 242.53h0M283.10 242.65h0M283.46 242.76h0M283.82 242.88h0M284.19 242.99h0M284.56 243.11h0M284.92 243.22h0M285.28 243.33h0M285.65 243.44h0M286.01 243.56h0M286.38 243.67h0M286.75 243.78h0M287.11 243.89h0M287.48 244.00h0M287.84 244.11h0M288.20 244.22h0M288.57 244.33h0M288.94 244.44h0M289.30 244.55h0M289.67 244.66h0M290.03 244.76h0M290.40 244.87h0M290.76 244.98h0M291.12 245.08h0M291.49 245.19h0M291.85 245.30h0M292.22 245.40h0M292.58 245.51h0M292.95 245.61h0M293.31 245.72h0M293.68 245.82h0M294.05 245.92h0M294.41 246.03h0M294.77 246.13h0M295.14 246.23h0M295.50 246.33h0M295.87 246.43h0M296.24 246.53h0M296.60 246.63h0M296.97 246.74h0M297.33 246.83h0M297.69 246.93h0M298.06 247.03h0M298.43 247.13h0M298.79 247.23h0M299.15 247.33h0M299.52 247.43h0M299.88 247.52h0M300.25 247.62h0M300.62 247.71h0M300.98 247.81h0M301.35 247.91h0M301.71 248.00h0M302.07 248.10h0M302.44 248.19h0M302.81 248.28h0M303.17 248.38h0M303.53 248.47h0M303.90 248.56h0M304.26 248.65h0M304.63 248.75h0M305.00 248.84h0M305.36 248.93h0M305.73 249.02h0M306.09 249.11h0M306.45 249.20h0M306.82 249.29h0M307.19 249.38h0M307.55 249.47h0M307.92 249.55h0M308.28 249.64h0M308.65 249.73h0M309.01 249.82h0M309.38 249.90h0M309.74 249.99h0M310.10 250.07h0M310.47 250.16h0M310.83 250.24h0M311.20 250.33h0M311.56 250.41h0M311.93 250.50h0M312.30 250.58h0M312.66 250.66h0M313.02 250.74h0M313.39 250.83h0M313.75 250.91h0M314.12 250.99h0M314.49 251.07h0M314.85 251.15h0M315.22 251.23h0M315.58 251.31h0M315.94 251.39h0M316.31 251.47h0M316.68 251.54h0M317.04 251.62h0M317.40 251.70h0M317.77 251.78h0M318.13 251.85h0M318.47 251.92h0" class="bp2"/>
</g>
<g clip-path="url(#cr)">
<polyline points="385.61,87.34 386.10,86.27 386.59,85.17 387.07,84.06 387.55,82.93 388.02,81.79 388.49,80.63 388.97,79.47 389.44,78.29 389.92,77.10 390.40,75.91 390.90,74.72 391.40,73.52 391.91,72.31 392.44,71.11 392.98,69.91 393.54,68.72 394.11,67.53 394.71,66.34 395.32,65.17 395.96,64.00 396.63,62.85 397.32,61.71 398.04,60.59 398.78,59.48 399.55,58.40 400.35,57.34 401.17,56.32 402.02,55.32 402.89,54.35 403.80,53.42 404.73,52.53 405.68,51.68 406.66,50.87 407.67,50.11 408.71,49.40 409.77,48.74 410.85,48.14 411.97,47.59 413.11,47.11 414.27,46.68 415.46,46.31 416.66,46.00 417.88,45.75 419.11,45.56 420.35,45.42 421.59,45.34 422.84,45.32 424.09,45.36 425.34,45.46 426.59,45.61 427.83,45.82 429.06,46.08 430.28,46.40 431.50,46.76 432.71,47.17 433.91,47.61 435.10,48.10 436.29,48.62 437.46,49.18 438.63,49.76 439.79,50.37 440.94,51.00 442.09,51.65 443.22,52.32 444.35,53.01 445.46,53.70 446.57,54.40 447.67,55.11 448.76,55.83 449.85,56.55 450.92,57.28 451.99,58.03 453.05,58.77 454.10,59.53 455.15,60.29 456.19,61.06 457.22,61.84 458.25,62.62 459.27,63.41 460.28,64.20 461.29,65.00 462.29,65.81 463.29,66.62 464.28,67.44 465.27,68.26 466.25,69.09 467.23,69.92 468.20,70.75 469.17,71.59 470.14,72.44 471.10,73.28 472.06,74.13 473.01,74.99 473.96,75.85 474.91,76.71 475.85,77.57 476.80,78.44 477.74,79.30 478.68,80.17 479.61,81.05 480.55,81.92 481.48,82.80 482.42,83.67 483.35,84.55 484.28,85.43 485.21,86.31 486.14,87.19 487.07,88.07 488.00,88.95 488.93,89.83 489.86,90.71 490.79,91.59 491.72,92.47 492.65,93.35 493.58,94.23 494.52,95.11 495.46,95.98 496.39,96.86 497.33,97.73 498.27,98.60 499.21,99.47 500.16,100.34 501.10,101.21 502.04,102.08 502.99,102.94 503.94,103.81 504.89,104.67 505.84,105.54 506.79,106.40 507.74,107.26 508.69,108.12 509.64,108.98 510.60,109.84 511.55,110.70 512.51,111.56 513.47,112.42 514.43,113.27 515.39,114.13 516.35,114.98 517.31,115.83 518.27,116.69 519.23,117.54 520.20,118.39 521.16,119.24 522.13,120.09 523.09,120.94 524.06,121.78 525.03,122.63 526.00,123.48 526.96,124.32 527.93,125.17 528.90,126.01 529.88,126.86 530.85,127.70 531.82,128.54 532.79,129.39 533.77,130.23 534.74,131.07 535.71,131.91 536.69,132.75 537.66,133.59 538.64,134.43 539.62,135.26 540.59,136.10 541.57,136.94 542.55,137.78 543.53,138.61 544.51,139.45 545.48,140.29 546.46,141.12 547.44,141.96 548.42,142.79 549.40,143.63 550.38,144.46 551.36,145.29 552.35,146.13 553.33,146.96 554.31,147.79 555.29,148.62 556.27,149.46 557.25,150.29 558.23,151.12 559.22,151.95 560.20,152.78 561.18,153.61 562.16,154.45 563.15,155.28 564.13,156.11 565.11,156.94 566.10,157.77 567.08,158.59 568.06,159.42 569.05,160.25 570.03,161.08 571.02,161.91 572.00,162.73 572.99,163.56 573.97,164.38 574.96,165.21 575.95,166.03 576.93,166.86 577.92,167.68 578.91,168.50 579.90,169.33 580.89,170.15 581.87,170.97 582.86,171.79 583.85,172.61 584.85,173.43 585.84,174.24 586.83,175.06 587.82,175.88 588.82,176.69 589.81,177.50 590.80,178.32 591.80,179.13 592.80,179.94 593.79,180.75 594.79,181.56 595.79,182.37 596.79,183.18 597.79,183.98 598.79,184.79 599.79,185.59 600.79,186.40 601.79,187.20 602.80,188.00 603.80,188.80 604.81,189.60 605.82,190.39 606.82,191.19 607.83,191.98 608.84,192.78 609.85,193.57 610.86,194.36 611.87,195.15 612.89,195.94 613.90,196.72 614.92,197.51 615.94,198.29 616.95,199.07 617.97,199.85 618.99,200.63 620.01,201.41 621.04,202.19 622.06,202.96 623.08,203.73 624.11,204.51 625.14,205.27 626.17,206.04 627.19,206.81 628.23,207.57 629.26,208.34 630.29,209.10 631.33,209.86 632.36,210.61 633.40,211.37 634.44,212.12 635.48,212.88 636.52,213.63 637.57,214.38 638.61,215.12 639.66,215.87 640.70,216.61 641.75,217.35 642.80,218.09 643.86,218.82 644.91,219.56 645.97,220.29 647.02,221.02 648.08,221.75 649.14,222.48 650.20,223.20 651.27,223.92 652.33,224.64 653.40,225.36 654.47,226.07 655.54,226.79 656.61,227.50 657.68,228.21 658.76,228.91 659.84,229.62 660.92,230.32 662.00,231.02 663.08,231.71 664.17,232.41 665.25,233.10 666.34,233.79 667.43,234.47 668.52,235.16 669.62,235.84 670.72,236.52 671.81,237.20 672.91,237.87 674.02,238.54 675.12,239.21 676.23,239.88 677.34,240.54 678.45,241.20" class="sm"/>
<path d="M385.50 73.61h0M385.87 72.78h0M386.23 71.91h0M386.60 71.01h0M386.96 70.06h0M387.33 69.08h0M387.70 68.06h0M388.06 67.01h0M388.43 65.92h0M388.79 64.82h0M389.16 63.69h0M389.53 62.54h0M389.89 61.39h0M390.26 60.24h0M390.62 59.09h0M390.99 57.96h0M391.36 56.84h0M391.72 55.74h0M392.09 54.67h0M392.45 53.62h0M392.82 52.61h0M393.19 51.63h0M393.55 50.68h0M393.92 49.76h0M394.28 48.88h0M394.65 48.03h0M395.02 47.21h0M395.38 46.42h0M395.75 45.66h0M396.11 44.92h0M396.48 44.22h0M396.85 43.54h0M397.21 42.89h0M397.58 42.26h0M397.94 41.65h0M398.31 41.06h0M398.68 40.49h0M399.04 39.94h0M399.41 39.40h0M399.77 38.89h0M400.14 38.39h0M400.51 37.90h0M400.87 37.43h0M401.24 36.98h0M401.60 36.53h0M401.97 36.11h0M402.34 35.69h0M402.70 35.29h0M403.07 34.90h0M403.43 34.52h0M403.80 34.15h0M404.17 33.80h0M404.53 33.45h0M404.90 33.12h0M405.26 32.79h0M405.63 32.48h0M406.00 32.18h0M406.36 31.88h0M406.73 31.60h0M407.09 31.33h0M407.46 31.06h0M407.83 30.81h0M408.19 30.56h0M408.56 30.32h0M408.92 30.10h0M409.29 29.88h0M409.66 29.66h0M410.02 29.46h0M410.39 29.27h0M410.75 29.08h0M411.12 28.90h0M411.49 28.73h0M411.85 28.57h0M412.22 28.41h0M412.58 28.26h0M412.95 28.12h0M413.32 27.99h0M413.68 27.86h0M414.05 27.75h0M414.41 27.63h0M414.78 27.53h0M415.15 27.43h0M415.51 27.33h0M415.88 27.25h0M416.24 27.17h0M416.61 27.09h0M416.98 27.02h0M417.34 26.96h0M417.71 26.90h0M418.07 26.84h0M418.44 26.79h0M418.81 26.75h0M419.17 26.71h0M419.54 26.68h0M419.90 26.65h0M420.27 26.62h0M420.64 26.60h0M421.00 26.59h0M421.37 26.58h0M421.73 26.57h0M422.10 26.57h0M422.47 26.58h0M422.83 26.58h0M423.20 26.60h0M423.56 26.61h0M423.93 26.63h0M424.30 26.66h0M424.66 26.69h0M425.03 26.72h0M425.39 26.76h0M425.76 26.80h0M426.13 26.84h0M426.49 26.89h0M426.86 26.95h0M427.22 27.01h0M427.59 27.07h0M427.96 27.13h0M428.32 27.20h0M428.69 27.28h0M429.05 27.36h0M429.42 27.44h0M429.79 27.53h0M430.15 27.62h0M430.52 27.71h0M430.88 27.81h0M431.25 27.92h0M431.62 28.02h0M431.98 28.14h0M432.35 28.25h0M432.71 28.37h0M433.08 28.50h0M433.45 28.62h0M433.81 28.76h0M434.18 28.89h0M434.54 29.03h0M434.91 29.17h0M435.28 29.32h0M435.64 29.47h0M436.01 29.63h0M436.37 29.79h0M436.74 29.95h0M437.11 30.11h0M437.47 30.28h0M437.84 30.45h0M438.20 30.63h0M438.57 30.81h0M438.94 30.99h0M439.30 31.18h0M439.67 31.37h0M440.03 31.56h0M440.40 31.76h0M440.77 31.95h0M441.13 32.16h0M441.50 32.36h0M441.86 32.57h0M442.23 32.78h0M442.60 32.99h0M442.96 33.21h0M443.33 33.42h0M443.69 33.65h0M444.06 33.87h0M444.43 34.09h0M444.79 34.32h0M445.16 34.55h0M445.52 34.79h0M445.89 35.02h0M446.26 35.26h0M446.62 35.50h0M446.99 35.74h0M447.35 35.98h0M447.72 36.23h0M448.09 36.47h0M448.45 36.72h0M448.82 36.97h0M449.18 37.22h0M449.55 37.47h0M449.92 37.73h0M450.28 37.98h0M450.65 38.24h0M451.01 38.50h0M451.38 38.76h0M451.75 39.03h0M452.11 39.29h0M452.48 39.56h0M452.84 39.83h0M453.21 40.10h0M453.58 40.37h0M453.94 40.64h0M454.31 40.92h0M454.67 41.19h0M455.04 41.47h0M455.41 41.75h0M455.77 42.03h0M456.14 42.31h0M456.50 42.60h0M456.87 42.89h0M457.24 43.17h0M457.60 43.46h0M457.97 43.75h0M458.33 44.04h0M458.70 44.34h0M459.07 44.63h0M459.43 44.93h0M459.80 45.23h0M460.16 45.53h0M460.53 45.83h0M460.90 46.13h0M461.26 46.43h0M461.63 46.74h0M461.99 47.05h0M462.36 47.35h0M462.73 47.66h0M463.09 47.97h0M463.46 48.29h0M463.82 48.60h0M464.19 48.91h0M464.56 49.23h0M464.92 49.55h0M465.29 49.86h0M465.65 50.18h0M466.02 50.50h0M466.39 50.83h0M466.75 51.15h0M467.12 51.47h0M467.48 51.80h0M467.85 52.12h0M468.22 52.45h0M468.58 52.78h0M468.95 53.11h0M469.31 53.44h0M469.68 53.77h0M470.05 54.10h0M470.41 54.43h0M470.78 54.76h0M471.14 55.10h0M471.51 55.43h0M471.88 55.77h0M472.24 56.11h0M472.61 56.44h0M472.97 56.78h0M473.34 57.12h0M473.71 57.46h0M474.07 57.80h0M474.44 58.14h0M474.80 58.48h0M475.17 58.82h0M475.54 59.16h0M475.90 59.51h0M476.27 59.85h0M476.63 60.19h0M477.00 60.54h0M477.37 60.88h0M477.73 61.23h0M478.10 61.57h0M478.46 61.91h0M478.83 62.26h0M479.20 62.61h0M479.56 62.95h0M479.93 63.30h0M480.29 63.64h0M480.66 63.99h0M481.03 64.33h0M481.39 64.68h0M481.76 65.02h0M482.12 65.37h0M482.49 65.72h0M482.86 66.06h0M483.22 66.41h0M483.59 66.75h0M483.95 67.10h0M484.32 67.44h0M484.69 67.79h0M485.05 68.14h0M485.42 68.48h0M485.78 68.83h0M486.15 69.17h0M486.52 69.52h0M486.88 69.87h0M487.25 70.21h0M487.61 70.56h0M487.98 70.90h0M488.35 71.25h0M488.71 71.59h0M489.08 71.94h0M489.44 72.29h0M489.81 72.63h0M490.18 72.98h0M490.54 73.32h0M490.91 73.67h0M491.27 74.01h0M491.64 74.36h0M492.01 74.71h0M492.37 75.05h0M492.74 75.40h0M493.10 75.74h0M493.47 76.09h0M493.84 76.43h0M494.20 76.78h0M494.57 77.12h0M494.93 77.47h0M495.30 77.82h0M495.67 78.16h0M496.03 78.51h0M496.40 78.85h0M496.76 79.20h0M497.13 79.54h0M497.50 79.89h0M497.86 80.23h0M498.23 80.58h0M498.59 80.92h0M498.96 81.27h0M499.33 81.61h0M499.69 81.96h0M500.06 82.30h0M500.42 82.65h0M500.79 82.99h0M501.16 83.34h0M501.52 83.68h0M501.89 84.03h0M502.25 84.37h0M502.62 84.71h0M502.99 85.06h0M503.35 85.40h0M503.72 85.75h0M504.08 86.09h0M504.45 86.43h0M504.82 86.78h0M505.18 87.12h0M505.55 87.47h0M505.91 87.81h0M506.28 88.15h0M506.65 88.50h0M507.01 88.84h0M507.38 89.18h0M507.74 89.53h0M508.11 89.87h0M508.48 90.21h0M508.84 90.56h0M509.21 90.90h0M509.57 91.24h0M509.94 91.59h0M510.31 91.93h0M510.67 92.27h0M511.04 92.61h0M511.40 92.96h0M511.77 93.30h0M512.14 93.64h0M512.50 93.98h0M512.87 94.32h0M513.23 94.67h0M513.60 95.01h0M513.97 95.35h0M514.33 95.69h0M514.70 96.03h0M515.06 96.37h0M515.43 96.71h0M515.80 97.06h0M516.16 97.40h0M516.53 97.74h0M516.89 98.08h0M517.26 98.42h0M517.63 98.76h0M517.99 99.10h0M518.36 99.44h0M518.72 99.78h0M519.09 100.12h0M519.46 100.46h0M519.82 100.80h0M520.19 101.14h0M520.55 101.48h0M520.92 101.82h0M521.29 102.16h0M521.65 102.49h0M522.02 102.83h0M522.38 103.17h0M522.75 103.51h0M523.12 103.85h0M523.48 104.19h0M523.85 104.52h0M524.21 104.86h0M524.58 105.20h0M524.95 105.54h0M525.31 105.88h0M525.68 106.21h0M526.04 106.55h0M526.41 106.89h0M526.78 107.22h0M527.14 107.56h0M527.51 107.90h0M527.87 108.23h0M528.24 108.57h0M528.61 108.91h0M528.97 109.24h0M529.34 109.58h0M529.70 109.91h0M530.07 110.25h0M530.44 110.58h0M530.80 110.92h0M531.17 111.25h0M531.53 111.59h0M531.90 111.92h0M532.27 112.26h0M532.63 112.59h0M533.00 112.92h0M533.36 113.26h0M533.73 113.59h0M534.10 113.92h0M534.46 114.26h0M534.83 114.59h0M535.19 114.92h0M535.56 115.26h0M535.93 115.59h0M536.29 115.92h0M536.66 116.25h0M537.02 116.58h0M537.39 116.92h0M537.76 117.25h0M538.12 117.58h0M538.49 117.91h0M538.85 118.24h0M539.22 118.57h0M539.59 118.90h0M539.95 119.23h0M540.32 119.56h0M540.68 119.89h0M541.05 120.22h0M541.42 120.55h0M541.78 120.88h0M542.15 121.21h0M542.51 121.54h0M542.88 121.86h0M543.25 122.19h0M543.61 122.52h0M543.98 122.85h0M544.34 123.18h0M544.71 123.50h0M545.08 123.83h0M545.44 124.16h0M545.81 124.48h0M546.17 124.81h0M546.54 125.14h0M546.91 125.46h0M547.27 125.79h0M547.64 126.11h0M548.00 126.44h0M548.37 126.76h0M548.74 127.09h0M549.10 127.41h0M549.47 127.74h0M549.83 128.06h0M550.20 128.39h0M550.57 128.71h0M550.93 129.03h0M551.30 129.36h0M551.66 129.68h0M552.03 130.00h0M552.40 130.33h0M552.76 130.65h0M553.13 130.97h0M553.49 131.29h0M553.86 131.62h0M554.23 131.94h0M554.59 132.26h0M554.96 132.58h0M555.32 132.90h0M555.69 133.22h0M556.06 133.54h0M556.42 133.86h0M556.79 134.18h0M557.15 134.50h0M557.52 134.82h0M557.89 135.14h0M558.25 135.46h0M558.62 135.78h0M558.98 136.10h0M559.35 136.42h0M559.72 136.74h0M560.08 137.05h0M560.45 137.37h0M560.81 137.69h0M561.18 138.01h0M561.55 138.32h0M561.91 138.64h0M562.28 138.96h0M562.64 139.27h0M563.01 139.59h0M563.38 139.91h0M563.74 140.22h0M564.11 140.54h0M564.47 140.85h0M564.84 141.17h0M565.21 141.48h0M565.57 141.80h0M565.94 142.11h0M566.30 142.43h0M566.67 142.74h0M567.04 143.05h0M567.40 143.37h0M567.77 143.68h0M568.13 143.99h0M568.50 144.31h0M568.87 144.62h0M569.23 144.93h0M569.60 145.25h0M569.96 145.56h0M570.33 145.87h0M570.70 146.18h0M571.06 146.49h0M571.43 146.80h0M571.79 147.11h0M572.16 147.43h0M572.53 147.74h0M572.89 148.05h0M573.26 148.36h0M573.62 148.67h0M573.99 148.98h0M574.36 149.29h0M574.72 149.59h0M575.09 149.90h0M575.45 150.21h0M575.82 150.52h0M576.19 150.83h0M576.55 151.14h0M576.92 151.44h0M577.28 151.75h0M577.65 152.06h0M578.02 152.37h0M578.38 152.67h0M578.75 152.98h0M579.11 153.29h0M579.48 153.59h0M579.85 153.90h0M580.21 154.20h0M580.58 154.51h0M580.94 154.82h0M581.31 155.12h0M581.68 155.43h0M582.04 155.73h0M582.41 156.04h0M582.77 156.34h0M583.14 156.64h0M583.51 156.95h0M583.87 157.25h0M584.24 157.55h0M584.60 157.86h0M584.97 158.16h0M585.34 158.46h0M585.70 158.77h0M586.07 159.07h0M586.43 159.37h0M586.80 159.67h0M587.17 159.97h0M587.53 160.27h0M587.90 160.57h0M588.26 160.88h0M588.63 161.18h0M589.00 161.48h0M589.36 161.78h0M589.73 162.08h0M590.09 162.38h0M590.46 162.68h0M590.83 162.98h0M591.19 163.27h0M591.56 163.57h0M591.92 163.87h0M592.29 164.17h0M592.66 164.47h0M593.02 164.77h0M593.39 165.06h0M593.75 165.36h0M594.12 165.66h0M594.49 165.96h0M594.85 166.25h0M595.22 166.55h0M595.58 166.85h0M595.95 167.14h0M596.32 167.44h0M596.68 167.73h0M597.05 168.03h0M597.41 168.32h0M597.78 168.62h0M598.15 168.91h0M598.51 169.21h0M598.88 169.50h0M599.24 169.80h0M599.61 170.09h0M599.98 170.38h0M600.34 170.68h0M600.71 170.97h0M601.07 171.26h0M601.44 171.56h0M601.81 171.85h0M602.17 172.14h0M602.54 172.43h0M602.90 172.72h0M603.27 173.02h0M603.64 173.31h0M604.00 173.60h0M604.37 173.89h0M604.73 174.18h0M605.10 174.47h0M605.47 174.76h0M605.83 175.05h0M606.20 175.34h0M606.56 175.63h0M606.93 175.92h0M607.30 176.21h0M607.66 176.50h0M608.03 176.79h0M608.39 177.07h0M608.76 177.36h0M609.13 177.65h0M609.49 177.94h0M609.86 178.23h0M610.22 178.51h0M610.59 178.80h0M610.96 179.09h0M611.32 179.37h0M611.69 179.66h0M612.05 179.95h0M612.42 180.23h0M612.79 180.52h0M613.15 180.80h0M613.52 181.09h0M613.88 181.37h0M614.25 181.66h0M614.62 181.94h0M614.98 182.23h0M615.35 182.51h0M615.71 182.79h0M616.08 183.08h0M616.45 183.36h0M616.81 183.64h0M617.18 183.93h0M617.54 184.21h0M617.91 184.49h0M618.28 184.77h0M618.64 185.06h0M619.01 185.34h0M619.37 185.62h0M619.74 185.90h0M620.11 186.18h0M620.47 186.46h0M620.84 186.74h0M621.20 187.02h0M621.57 187.30h0M621.94 187.58h0M622.30 187.86h0M622.67 188.14h0M623.03 188.42h0M623.40 188.70h0M623.77 188.98h0M624.13 189.26h0M624.50 189.54h0M624.86 189.82h0M625.23 190.09h0M625.60 190.37h0M625.96 190.65h0M626.33 190.93h0M626.69 191.20h0M627.06 191.48h0M627.43 191.76h0M627.79 192.03h0M628.16 192.31h0M628.52 192.59h0M628.89 192.86h0M629.26 193.14h0M629.62 193.41h0M629.99 193.69h0M630.35 193.96h0M630.72 194.24h0M631.09 194.51h0M631.45 194.78h0M631.82 195.06h0M632.18 195.33h0M632.55 195.61h0M632.92 195.88h0M633.28 196.15h0M633.65 196.42h0M634.01 196.70h0M634.38 196.97h0M634.75 197.24h0M635.11 197.51h0M635.48 197.78h0M635.84 198.06h0M636.21 198.33h0M636.58 198.60h0M636.94 198.87h0M637.31 199.14h0M637.67 199.41h0M638.04 199.68h0M638.41 199.95h0M638.77 200.22h0M639.14 200.49h0M639.50 200.76h0M639.87 201.03h0M640.24 201.29h0M640.60 201.56h0M640.97 201.83h0M641.33 202.10h0M641.70 202.37h0M642.07 202.63h0M642.43 202.90h0M642.80 203.17h0M643.16 203.43h0M643.53 203.70h0M643.90 203.97h0M644.26 204.23h0M644.63 204.50h0M644.99 204.76h0M645.36 205.03h0M645.73 205.30h0M646.09 205.56h0M646.46 205.83h0M646.82 206.09h0M647.19 206.35h0M647.56 206.62h0M647.92 206.88h0M648.29 207.15h0M648.65 207.41h0M649.02 207.67h0M649.39 207.93h0M649.75 208.20h0M650.12 208.46h0M650.48 208.72h0M650.85 208.98h0M651.22 209.25h0M651.58 209.51h0M651.95 209.77h0M652.31 210.03h0M652.68 210.29h0M653.05 210.55h0M653.41 210.81h0M653.78 211.07h0M654.14 211.33h0M654.51 211.59h0M654.88 211.85h0M655.24 212.11h0M655.61 212.37h0M655.97 212.63h0M656.34 212.89h0M656.71 213.15h0M657.07 213.40h0M657.44 213.66h0M657.80 213.92h0M658.17 214.18h0M658.54 214.43h0M658.90 214.69h0M659.27 214.95h0M659.63 215.20h0M660.00 215.46h0M660.37 215.72h0M660.73 215.97h0M661.10 216.23h0M661.46 216.48h0M661.83 216.74h0M662.20 216.99h0M662.56 217.25h0M662.93 217.50h0M663.29 217.76h0M663.66 218.01h0M664.03 218.27h0M664.39 218.52h0M664.76 218.77h0M665.12 219.03h0M665.49 219.28h0M665.86 219.53h0M666.22 219.78h0M666.59 220.04h0M666.95 220.29h0M667.32 220.54h0M667.69 220.79h0M668.05 221.04h0M668.42 221.29h0M668.78 221.54h0M669.15 221.79h0M669.52 222.05h0M669.88 222.30h0M670.25 222.55h0M670.61 222.80h0M670.98 223.04h0M671.35 223.29h0M671.71 223.54h0M672.08 223.79h0M672.44 224.04h0M672.81 224.29h0M673.18 224.54h0M673.54 224.79h0M673.91 225.03h0M674.27 225.28h0M674.64 225.53h0M675.01 225.77h0M675.37 226.02h0M675.74 226.27h0M676.10 226.51h0M676.47 226.76h0M676.84 227.01h0M677.20 227.25h0M677.57 227.50h0M677.93 227.74h0M678.30 227.99h0" class="bp1"/>
<path d="M385.50 100.23h0M385.87 99.23h0M386.23 98.19h0M386.60 97.13h0M386.96 96.05h0M387.33 94.95h0M387.70 93.85h0M388.06 92.74h0M388.43 91.63h0M388.79 90.53h0M389.16 89.44h0M389.53 88.36h0M389.89 87.31h0M390.26 86.27h0M390.62 85.26h0M390.99 84.27h0M391.36 83.31h0M391.72 82.38h0M392.09 81.47h0M392.45 80.60h0M392.82 79.75h0M393.19 78.93h0M393.55 78.14h0M393.92 77.38h0M394.28 76.64h0M394.65 75.93h0M395.02 75.24h0M395.38 74.57h0M395.75 73.93h0M396.11 73.31h0M396.48 72.72h0M396.85 72.14h0M397.21 71.58h0M397.58 71.04h0M397.94 70.52h0M398.31 70.01h0M398.68 69.53h0M399.04 69.05h0M399.41 68.60h0M399.77 68.15h0M400.14 67.72h0M400.51 67.30h0M400.87 66.90h0M401.24 66.51h0M401.60 66.12h0M401.97 65.75h0M402.34 65.39h0M402.70 65.04h0M403.07 64.70h0M403.43 64.37h0M403.80 64.05h0M404.17 63.74h0M404.53 63.44h0M404.90 63.15h0M405.26 62.86h0M405.63 62.58h0M406.00 62.32h0M406.36 62.06h0M406.73 61.80h0M407.09 61.56h0M407.46 61.32h0M407.83 61.09h0M408.19 60.87h0M408.56 60.65h0M408.92 60.45h0M409.29 60.25h0M409.66 60.05h0M410.02 59.86h0M410.39 59.68h0M410.75 59.51h0M411.12 59.34h0M411.49 59.18h0M411.85 59.03h0M412.22 58.88h0M412.58 58.74h0M412.95 58.61h0M413.32 58.48h0M413.68 58.35h0M414.05 58.24h0M414.41 58.13h0M414.78 58.02h0M415.15 57.93h0M415.51 57.83h0M415.88 57.75h0M416.24 57.67h0M416.61 57.59h0M416.98 57.52h0M417.34 57.46h0M417.71 57.40h0M418.07 57.35h0M418.44 57.30h0M418.81 57.26h0M419.17 57.22h0M419.54 57.18h0M419.90 57.16h0M420.27 57.13h0M420.64 57.11h0M421.00 57.10h0M421.37 57.09h0M421.73 57.08h0M422.10 57.08h0M422.47 57.08h0M422.83 57.09h0M423.20 57.10h0M423.56 57.12h0M423.93 57.13h0M424.30 57.16h0M424.66 57.19h0M425.03 57.22h0M425.39 57.25h0M425.76 57.29h0M426.13 57.34h0M426.49 57.39h0M426.86 57.44h0M427.22 57.49h0M427.59 57.55h0M427.96 57.62h0M428.32 57.68h0M428.69 57.76h0M429.05 57.83h0M429.42 57.91h0M429.79 57.99h0M430.15 58.08h0M430.52 58.17h0M430.88 58.27h0M431.25 58.37h0M431.62 58.47h0M431.98 58.58h0M432.35 58.69h0M432.71 58.81h0M433.08 58.93h0M433.45 59.05h0M433.81 59.18h0M434.18 59.31h0M434.54 59.45h0M434.91 59.59h0M435.28 59.74h0M435.64 59.89h0M436.01 60.05h0M436.37 60.20h0M436.74 60.37h0M437.11 60.54h0M437.47 60.71h0M437.84 60.88h0M438.20 61.06h0M438.57 61.25h0M438.94 61.44h0M439.30 61.63h0M439.67 61.83h0M440.03 62.03h0M440.40 62.23h0M440.77 62.44h0M441.13 62.66h0M441.50 62.87h0M441.86 63.09h0M442.23 63.32h0M442.60 63.54h0M442.96 63.78h0M443.33 64.01h0M443.69 64.25h0M444.06 64.49h0M444.43 64.73h0M444.79 64.98h0M445.16 65.23h0M445.52 65.49h0M445.89 65.74h0M446.26 66.00h0M446.62 66.27h0M446.99 66.53h0M447.35 66.80h0M447.72 67.07h0M448.09 67.34h0M448.45 67.62h0M448.82 67.89h0M449.18 68.17h0M449.55 68.45h0M449.92 68.73h0M450.28 69.02h0M450.65 69.30h0M451.01 69.59h0M451.38 69.87h0M451.75 70.16h0M452.11 70.45h0M452.48 70.74h0M452.84 71.03h0M453.21 71.32h0M453.58 71.61h0M453.94 71.90h0M454.31 72.19h0M454.67 72.48h0M455.04 72.77h0M455.41 73.07h0M455.77 73.36h0M456.14 73.65h0M456.50 73.95h0M456.87 74.24h0M457.24 74.53h0M457.60 74.83h0M457.97 75.12h0M458.33 75.42h0M458.70 75.72h0M459.07 76.01h0M459.43 76.31h0M459.80 76.61h0M460.16 76.91h0M460.53 77.20h0M460.90 77.50h0M461.26 77.80h0M461.63 78.10h0M461.99 78.40h0M462.36 78.70h0M462.73 79.00h0M463.09 79.30h0M463.46 79.60h0M463.82 79.91h0M464.19 80.21h0M464.56 80.51h0M464.92 80.81h0M465.29 81.12h0M465.65 81.42h0M466.02 81.72h0M466.39 82.03h0M466.75 82.33h0M467.12 82.64h0M467.48 82.94h0M467.85 83.25h0M468.22 83.56h0M468.58 83.86h0M468.95 84.17h0M469.31 84.48h0M469.68 84.78h0M470.05 85.09h0M470.41 85.40h0M470.78 85.71h0M471.14 86.02h0M471.51 86.33h0M471.88 86.64h0M472.24 86.95h0M472.61 87.26h0M472.97 87.57h0M473.34 87.88h0M473.71 88.19h0M474.07 88.50h0M474.44 88.81h0M474.80 89.12h0M475.17 89.44h0M475.54 89.75h0M475.90 90.06h0M476.27 90.38h0M476.63 90.69h0M477.00 91.00h0M477.37 91.32h0M477.73 91.63h0M478.10 91.95h0M478.46 92.26h0M478.83 92.58h0M479.20 92.89h0M479.56 93.21h0M479.93 93.53h0M480.29 93.84h0M480.66 94.16h0M481.03 94.48h0M481.39 94.80h0M481.76 95.11h0M482.12 95.43h0M482.49 95.75h0M482.86 96.07h0M483.22 96.39h0M483.59 96.71h0M483.95 97.03h0M484.32 97.35h0M484.69 97.66h0M485.05 97.99h0M485.42 98.31h0M485.78 98.63h0M486.15 98.95h0M486.52 99.27h0M486.88 99.59h0M487.25 99.91h0M487.61 100.23h0M487.98 100.55h0M488.35 100.88h0M488.71 101.20h0M489.08 101.52h0M489.44 101.84h0M489.81 102.17h0M490.18 102.49h0M490.54 102.81h0M490.91 103.14h0M491.27 103.46h0M491.64 103.79h0M492.01 104.11h0M492.37 104.44h0M492.74 104.76h0M493.10 105.09h0M493.47 105.41h0M493.84 105.74h0M494.20 106.06h0M494.57 106.39h0M494.93 106.71h0M495.30 107.04h0M495.67 107.36h0M496.03 107.69h0M496.40 108.02h0M496.76 108.34h0M497.13 108.67h0M497.50 109.00h0M497.86 109.33h0M498.23 109.65h0M498.59 109.98h0M498.96 110.31h0M499.33 110.64h0M499.69 110.96h0M500.06 111.29h0M500.42 111.62h0M500.79 111.95h0M501.16 112.28h0M501.52 112.60h0M501.89 112.93h0M502.25 113.26h0M502.62 113.59h0M502.99 113.92h0M503.35 114.25h0M503.72 114.58h0M504.08 114.91h0M504.45 115.24h0M504.82 115.57h0M505.18 115.90h0M505.55 116.23h0M505.91 116.56h0M506.28 116.89h0M506.65 117.22h0M507.01 117.55h0M507.38 117.88h0M507.74 118.21h0M508.11 118.54h0M508.48 118.87h0M508.84 119.20h0M509.21 119.53h0M509.57 119.86h0M509.94 120.19h0M510.31 120.52h0M510.67 120.85h0M511.04 121.18h0M511.40 121.51h0M511.77 121.84h0M512.14 122.17h0M512.50 122.50h0M512.87 122.84h0M513.23 123.17h0M513.60 123.50h0M513.97 123.83h0M514.33 124.16h0M514.70 124.49h0M515.06 124.82h0M515.43 125.15h0M515.80 125.48h0M516.16 125.82h0M516.53 126.15h0M516.89 126.48h0M517.26 126.81h0M517.63 127.14h0M517.99 127.47h0M518.36 127.80h0M518.72 128.13h0M519.09 128.46h0M519.46 128.80h0M519.82 129.13h0M520.19 129.46h0M520.55 129.79h0M520.92 130.12h0M521.29 130.45h0M521.65 130.78h0M522.02 131.11h0M522.38 131.44h0M522.75 131.77h0M523.12 132.10h0M523.48 132.43h0M523.85 132.76h0M524.21 133.10h0M524.58 133.43h0M524.95 133.76h0M525.31 134.09h0M525.68 134.42h0M526.04 134.75h0M526.41 135.08h0M526.78 135.41h0M527.14 135.74h0M527.51 136.07h0M527.87 136.40h0M528.24 136.73h0M528.61 137.06h0M528.97 137.39h0M529.34 137.71h0M529.70 138.04h0M530.07 138.37h0M530.44 138.70h0M530.80 139.03h0M531.17 139.36h0M531.53 139.69h0M531.90 140.02h0M532.27 140.35h0M532.63 140.67h0M533.00 141.00h0M533.36 141.33h0M533.73 141.66h0M534.10 141.99h0M534.46 142.31h0M534.83 142.64h0M535.19 142.97h0M535.56 143.30h0M535.93 143.62h0M536.29 143.95h0M536.66 144.28h0M537.02 144.60h0M537.39 144.93h0M537.76 145.26h0M538.12 145.58h0M538.49 145.91h0M538.85 146.23h0M539.22 146.56h0M539.59 146.88h0M539.95 147.21h0M540.32 147.53h0M540.68 147.86h0M541.05 148.18h0M541.42 148.51h0M541.78 148.83h0M542.15 149.16h0M542.51 149.48h0M542.88 149.80h0M543.25 150.13h0M543.61 150.45h0M543.98 150.77h0M544.34 151.10h0M544.71 151.42h0M545.08 151.74h0M545.44 152.06h0M545.81 152.38h0M546.17 152.71h0M546.54 153.03h0M546.91 153.35h0M547.27 153.67h0M547.64 153.99h0M548.00 154.31h0M548.37 154.63h0M548.74 154.95h0M549.10 155.27h0M549.47 155.59h0M549.83 155.91h0M550.20 156.23h0M550.57 156.55h0M550.93 156.87h0M551.30 157.18h0M551.66 157.50h0M552.03 157.82h0M552.40 158.14h0M552.76 158.45h0M553.13 158.77h0M553.49 159.09h0M553.86 159.40h0M554.23 159.72h0M554.59 160.03h0M554.96 160.35h0M555.32 160.67h0M555.69 160.98h0M556.06 161.29h0M556.42 161.61h0M556.79 161.92h0M557.15 162.24h0M557.52 162.55h0M557.89 162.86h0M558.25 163.17h0M558.62 163.49h0M558.98 163.80h0M559.35 164.11h0M559.72 164.42h0M560.08 164.73h0M560.45 165.04h0M560.81 165.35h0M561.18 165.66h0M561.55 165.97h0M561.91 166.28h0M562.28 166.59h0M562.64 166.90h0M563.01 167.21h0M563.38 167.52h0M563.74 167.83h0M564.11 168.13h0M564.47 168.44h0M564.84 168.75h0M565.21 169.05h0M565.57 169.36h0M565.94 169.66h0M566.30 169.97h0M566.67 170.28h0M567.04 170.58h0M567.40 170.88h0M567.77 171.19h0M568.13 171.49h0M568.50 171.80h0M568.87 172.10h0M569.23 172.40h0M569.60 172.71h0M569.96 173.01h0M570.33 173.31h0M570.70 173.61h0M571.06 173.91h0M571.43 174.21h0M571.79 174.52h0M572.16 174.82h0M572.53 175.12h0M572.89 175.42h0M573.26 175.72h0M573.62 176.02h0M573.99 176.31h0M574.36 176.61h0M574.72 176.91h0M575.09 177.21h0M575.45 177.51h0M575.82 177.81h0M576.19 178.10h0M576.55 178.40h0M576.92 178.70h0M577.28 178.99h0M577.65 179.29h0M578.02 179.58h0M578.38 179.88h0M578.75 180.18h0M579.11 180.47h0M579.48 180.76h0M579.85 181.06h0M580.21 181.35h0M580.58 181.65h0M580.94 181.94h0M581.31 182.23h0M581.68 182.53h0M582.04 182.82h0M582.41 183.11h0M582.77 183.40h0M583.14 183.70h0M583.51 183.99h0M583.87 184.28h0M584.24 184.57h0M584.60 184.86h0M584.97 185.15h0M585.34 185.44h0M585.70 185.73h0M586.07 186.02h0M586.43 186.31h0M586.80 186.60h0M587.17 186.89h0M587.53 187.18h0M587.90 187.47h0M588.26 187.75h0M588.63 188.04h0M589.00 188.33h0M589.36 188.62h0M589.73 188.90h0M590.09 189.19h0M590.46 189.48h0M590.83 189.76h0M591.19 190.05h0M591.56 190.33h0M591.92 190.62h0M592.29 190.90h0M592.66 191.19h0M593.02 191.47h0M593.39 191.76h0M593.75 192.04h0M594.12 192.33h0M594.49 192.61h0M594.85 192.89h0M595.22 193.18h0M595.58 193.46h0M595.95 193.74h0M596.32 194.02h0M596.68 194.31h0M597.05 194.59h0M597.41 194.87h0M597.78 195.15h0M598.15 195.43h0M598.51 195.71h0M598.88 195.99h0M599.24 196.27h0M599.61 196.55h0M599.98 196.83h0M600.34 197.11h0M600.71 197.39h0M601.07 197.67h0M601.44 197.95h0M601.81 198.23h0M602.17 198.51h0M602.54 198.79h0M602.90 199.06h0M603.27 199.34h0M603.64 199.62h0M604.00 199.90h0M604.37 200.17h0M604.73 200.45h0M605.10 200.73h0M605.47 201.00h0M605.83 201.28h0M606.20 201.56h0M606.56 201.83h0M606.93 202.11h0M607.30 202.38h0M607.66 202.66h0M608.03 202.93h0M608.39 203.21h0M608.76 203.48h0M609.13 203.75h0M609.49 204.03h0M609.86 204.30h0M610.22 204.57h0M610.59 204.85h0M610.96 205.12h0M611.32 205.39h0M611.69 205.67h0M612.05 205.94h0M612.42 206.21h0M612.79 206.48h0M613.15 206.75h0M613.52 207.02h0M613.88 207.29h0M614.25 207.57h0M614.62 207.84h0M614.98 208.11h0M615.35 208.38h0M615.71 208.65h0M616.08 208.92h0M616.45 209.19h0M616.81 209.46h0M617.18 209.72h0M617.54 209.99h0M617.91 210.26h0M618.28 210.53h0M618.64 210.80h0M619.01 211.07h0M619.37 211.34h0M619.74 211.60h0M620.11 211.87h0M620.47 212.14h0M620.84 212.40h0M621.20 212.67h0M621.57 212.94h0M621.94 213.20h0M622.30 213.47h0M622.67 213.74h0M623.03 214.00h0M623.40 214.27h0M623.77 214.53h0M624.13 214.80h0M624.50 215.06h0M624.86 215.33h0M625.23 215.59h0M625.60 215.86h0M625.96 216.12h0M626.33 216.39h0M626.69 216.65h0M627.06 216.91h0M627.43 217.18h0M627.79 217.44h0M628.16 217.70h0M628.52 217.96h0M628.89 218.23h0M629.26 218.49h0M629.62 218.75h0M629.99 219.01h0M630.35 219.28h0M630.72 219.54h0M631.09 219.80h0M631.45 220.06h0M631.82 220.32h0M632.18 220.58h0M632.55 220.84h0M632.92 221.10h0M633.28 221.36h0M633.65 221.62h0M634.01 221.88h0M634.38 222.14h0M634.75 222.40h0M635.11 222.66h0M635.48 222.92h0M635.84 223.18h0M636.21 223.44h0M636.58 223.70h0M636.94 223.96h0M637.31 224.21h0M637.67 224.47h0M638.04 224.73h0M638.41 224.99h0M638.77 225.24h0M639.14 225.50h0M639.50 225.76h0M639.87 226.02h0M640.24 226.27h0M640.60 226.53h0M640.97 226.79h0M641.33 227.04h0M641.70 227.30h0M642.07 227.55h0M642.43 227.81h0M642.80 228.06h0M643.16 228.32h0M643.53 228.57h0M643.90 228.83h0M644.26 229.08h0M644.63 229.34h0M644.99 229.59h0M645.36 229.85h0M645.73 230.10h0M646.09 230.36h0M646.46 230.61h0M646.82 230.86h0M647.19 231.12h0M647.56 231.37h0M647.92 231.62h0M648.29 231.88h0M648.65 232.13h0M649.02 232.38h0M649.39 232.63h0M649.75 232.89h0M650.12 233.14h0M650.48 233.39h0M650.85 233.64h0M651.22 233.89h0M651.58 234.14h0M651.95 234.40h0M652.31 234.65h0M652.68 234.90h0M653.05 235.15h0M653.41 235.40h0M653.78 235.65h0M654.14 235.90h0M654.51 236.15h0M654.88 236.40h0M655.24 236.65h0M655.61 236.90h0M655.97 237.15h0M656.34 237.40h0M656.71 237.65h0M657.07 237.90h0M657.44 238.14h0M657.80 238.39h0M658.17 238.64h0M658.54 238.89h0M658.90 239.14h0M659.27 239.39h0M659.63 239.63h0M660.00 239.88h0M660.37 240.13h0M660.73 240.38h0M661.10 240.62h0M661.46 240.87h0M661.83 241.12h0M662.20 241.36h0M662.56 241.61h0M662.93 241.86h0M663.29 242.10h0M663.66 242.35h0M664.03 242.60h0M664.39 242.84h0M664.76 243.09h0M665.12 243.33h0M665.49 243.58h0M665.86 243.82h0M666.22 244.07h0M666.59 244.31h0M666.95 244.56h0M667.32 244.80h0M667.69 245.05h0M668.05 245.29h0M668.42 245.54h0M668.78 245.78h0M669.15 246.02h0M669.52 246.27h0M669.88 246.51h0M670.25 246.76h0M670.61 247.00h0M670.98 247.24h0M671.35 247.49h0M671.71 247.73h0M672.08 247.97h0M672.44 248.21h0M672.81 248.46h0M673.18 248.70h0M673.54 248.94h0M673.91 249.18h0M674.27 249.43h0M674.64 249.67h0M675.01 249.91h0M675.37 250.15h0M675.74 250.39h0M676.10 250.63h0M676.47 250.87h0M676.84 251.12h0M677.20 251.36h0M677.57 251.60h0M677.93 251.84h0M678.26 252.05h0" class="bp2"/>
</g>
<line x1="25.6" y1="15.4" x2="319.1" y2="15.4" stroke="#959595" stroke-width="1.15"/>
<line x1="25.6" y1="263.4" x2="319.1" y2="263.4" stroke="#b3b3b3" stroke-width="1.35"/>
<line x1="26.2" y1="15" x2="26.2" y2="264" stroke="#959595" stroke-width="1.2"/>
<line x1="318.45" y1="15" x2="318.45" y2="264" stroke="#979797" stroke-width="1.15"/>
<line x1="385" y1="15.4" x2="679.1" y2="15.4" stroke="#959595" stroke-width="1.15"/>
<line x1="385" y1="263.4" x2="679.1" y2="263.4" stroke="#b3b3b3" stroke-width="1.35"/>
<line x1="385.5" y1="15" x2="385.5" y2="264" stroke="#444" stroke-width="1.0"/>
<line x1="678.55" y1="15" x2="678.55" y2="264" stroke="#7a7a7a" stroke-width="1.15"/>
<line x1="26.50" y1="263.5" x2="26.50" y2="266.0" class="tick"/>
<text x="27.70" y="275.1" font-size="8.2" text-anchor="middle" textLength="10.26" lengthAdjust="spacingAndGlyphs" style="" >200</text>
<line x1="63.00" y1="263.5" x2="63.00" y2="266.0" class="tick"/>
<text x="64.20" y="275.1" font-size="8.2" text-anchor="middle" textLength="10.26" lengthAdjust="spacingAndGlyphs" style="" >300</text>
<line x1="99.50" y1="263.5" x2="99.50" y2="266.0" class="tick"/>
<text x="100.70" y="275.1" font-size="8.2" text-anchor="middle" textLength="10.26" lengthAdjust="spacingAndGlyphs" style="" >400</text>
<line x1="136.00" y1="263.5" x2="136.00" y2="266.0" class="tick"/>
<text x="137.20" y="275.1" font-size="8.2" text-anchor="middle" textLength="10.26" lengthAdjust="spacingAndGlyphs" style="" >500</text>
<line x1="172.50" y1="263.5" x2="172.50" y2="266.0" class="tick"/>
<text x="173.70" y="275.1" font-size="8.2" text-anchor="middle" textLength="10.26" lengthAdjust="spacingAndGlyphs" style="" >600</text>
<line x1="209.00" y1="263.5" x2="209.00" y2="266.0" class="tick"/>
<text x="210.20" y="275.1" font-size="8.2" text-anchor="middle" textLength="10.26" lengthAdjust="spacingAndGlyphs" style="" >700</text>
<line x1="245.50" y1="263.5" x2="245.50" y2="266.0" class="tick"/>
<text x="246.70" y="275.1" font-size="8.2" text-anchor="middle" textLength="10.26" lengthAdjust="spacingAndGlyphs" style="" >800</text>
<line x1="282.00" y1="263.5" x2="282.00" y2="266.0" class="tick"/>
<text x="283.20" y="275.1" font-size="8.2" text-anchor="middle" textLength="10.26" lengthAdjust="spacingAndGlyphs" style="" >900</text>
<line x1="318.50" y1="263.5" x2="318.50" y2="266.0" class="tick"/>
<text x="319.70" y="275.1" font-size="8.2" text-anchor="middle" textLength="13.68" lengthAdjust="spacingAndGlyphs" style="" >1000</text>
<line x1="24.0" y1="230.40" x2="26.5" y2="230.40" class="tick"/>
<text x="23.70" y="233.70" font-size="8.2" text-anchor="end" textLength="11.97" lengthAdjust="spacingAndGlyphs" style="" >0.02</text>
<line x1="24.0" y1="195.60" x2="26.5" y2="195.60" class="tick"/>
<text x="23.70" y="198.90" font-size="8.2" text-anchor="end" textLength="11.97" lengthAdjust="spacingAndGlyphs" style="" >0.03</text>
<line x1="24.0" y1="160.80" x2="26.5" y2="160.80" class="tick"/>
<text x="23.70" y="164.10" font-size="8.2" text-anchor="end" textLength="11.97" lengthAdjust="spacingAndGlyphs" style="" >0.04</text>
<line x1="24.0" y1="126.00" x2="26.5" y2="126.00" class="tick"/>
<text x="23.70" y="129.30" font-size="8.2" text-anchor="end" textLength="11.97" lengthAdjust="spacingAndGlyphs" style="" >0.05</text>
<line x1="24.0" y1="91.20" x2="26.5" y2="91.20" class="tick"/>
<text x="23.70" y="94.50" font-size="8.2" text-anchor="end" textLength="11.97" lengthAdjust="spacingAndGlyphs" style="" >0.06</text>
<line x1="24.0" y1="56.40" x2="26.5" y2="56.40" class="tick"/>
<text x="23.70" y="59.70" font-size="8.2" text-anchor="end" textLength="11.97" lengthAdjust="spacingAndGlyphs" style="" >0.07</text>
<line x1="24.0" y1="21.60" x2="26.5" y2="21.60" class="tick"/>
<text x="23.70" y="24.90" font-size="8.2" text-anchor="end" textLength="11.97" lengthAdjust="spacingAndGlyphs" style="" >0.08</text>
<line x1="385.50" y1="263.5" x2="385.50" y2="266.0" class="tick"/>
<text x="386.70" y="275.1" font-size="8.2" text-anchor="middle" textLength="10.26" lengthAdjust="spacingAndGlyphs" style="" >200</text>
<line x1="422.10" y1="263.5" x2="422.10" y2="266.0" class="tick"/>
<text x="423.30" y="275.1" font-size="8.2" text-anchor="middle" textLength="10.26" lengthAdjust="spacingAndGlyphs" style="" >300</text>
<line x1="458.70" y1="263.5" x2="458.70" y2="266.0" class="tick"/>
<text x="459.90" y="275.1" font-size="8.2" text-anchor="middle" textLength="10.26" lengthAdjust="spacingAndGlyphs" style="" >400</text>
<line x1="495.30" y1="263.5" x2="495.30" y2="266.0" class="tick"/>
<text x="496.50" y="275.1" font-size="8.2" text-anchor="middle" textLength="10.26" lengthAdjust="spacingAndGlyphs" style="" >500</text>
<line x1="531.90" y1="263.5" x2="531.90" y2="266.0" class="tick"/>
<text x="533.10" y="275.1" font-size="8.2" text-anchor="middle" textLength="10.26" lengthAdjust="spacingAndGlyphs" style="" >600</text>
<line x1="568.50" y1="263.5" x2="568.50" y2="266.0" class="tick"/>
<text x="569.70" y="275.1" font-size="8.2" text-anchor="middle" textLength="10.26" lengthAdjust="spacingAndGlyphs" style="" >700</text>
<line x1="605.10" y1="263.5" x2="605.10" y2="266.0" class="tick"/>
<text x="606.30" y="275.1" font-size="8.2" text-anchor="middle" textLength="10.26" lengthAdjust="spacingAndGlyphs" style="" >800</text>
<line x1="641.70" y1="263.5" x2="641.70" y2="266.0" class="tick"/>
<text x="642.90" y="275.1" font-size="8.2" text-anchor="middle" textLength="10.26" lengthAdjust="spacingAndGlyphs" style="" >900</text>
<line x1="678.30" y1="263.5" x2="678.30" y2="266.0" class="tick"/>
<text x="679.50" y="275.1" font-size="8.2" text-anchor="middle" textLength="13.68" lengthAdjust="spacingAndGlyphs" style="" >1000</text>
<line x1="383.0" y1="249.40" x2="385.5" y2="249.40" class="tick"/>
<text x="382.70" y="252.30" font-size="8.2" text-anchor="end" textLength="8.55" lengthAdjust="spacingAndGlyphs" style="" >0.8</text>
<line x1="383.0" y1="208.22" x2="385.5" y2="208.22" class="tick"/>
<text x="382.70" y="211.12" font-size="8.2" text-anchor="end" textLength="8.55" lengthAdjust="spacingAndGlyphs" style="" >0.9</text>
<line x1="383.0" y1="167.04" x2="385.5" y2="167.04" class="tick"/>
<text x="382.70" y="169.94" font-size="8.2" text-anchor="end" textLength="8.55" lengthAdjust="spacingAndGlyphs" style="" >1.0</text>
<line x1="383.0" y1="125.86" x2="385.5" y2="125.86" class="tick"/>
<text x="382.70" y="128.76" font-size="8.2" text-anchor="end" textLength="8.55" lengthAdjust="spacingAndGlyphs" style="" >1.1</text>
<line x1="383.0" y1="84.68" x2="385.5" y2="84.68" class="tick"/>
<text x="382.70" y="87.58" font-size="8.2" text-anchor="end" textLength="8.55" lengthAdjust="spacingAndGlyphs" style="" >1.2</text>
<line x1="383.0" y1="43.50" x2="385.5" y2="43.50" class="tick"/>
<text x="382.70" y="46.40" font-size="8.2" text-anchor="end" textLength="8.55" lengthAdjust="spacingAndGlyphs" style="" >1.3</text>
<rect x="280.3" y="19.8" width="34.099999999999966" height="41.6" rx="2" ry="2" class="leg"/>
<line x1="282.6" y1="27.3" x2="294.0" y2="27.3" class="legdash"/>
<circle cx="288.90000000000003" cy="40.6" r="1.05" fill="#0000ff"/>
<circle cx="288.90000000000003" cy="53.3" r="1.05" fill="#ff0000"/>
<text x="301.1" y="30.3" font-size="8.3" text-anchor="start" textLength="9.8" lengthAdjust="spacingAndGlyphs" style="font-style:italic;stroke-width:0.1" >SM</text>
<text x="301.1" y="43.6" font-size="8.3" text-anchor="start" textLength="11.6" lengthAdjust="spacingAndGlyphs" style="font-style:italic;stroke-width:0.1" >BP1</text>
<text x="301.1" y="56.3" font-size="8.3" text-anchor="start" textLength="11.6" lengthAdjust="spacingAndGlyphs" style="font-style:italic;stroke-width:0.1" >BP2</text>
<rect x="639.7" y="19.8" width="35.0" height="41.6" rx="2" ry="2" class="leg"/>
<line x1="642.0" y1="27.3" x2="653.4" y2="27.3" class="legdash"/>
<circle cx="648.3000000000001" cy="40.6" r="1.05" fill="#0000ff"/>
<circle cx="648.3000000000001" cy="53.3" r="1.05" fill="#ff0000"/>
<text x="660.5" y="30.3" font-size="8.3" text-anchor="start" textLength="9.8" lengthAdjust="spacingAndGlyphs" style="font-style:italic;stroke-width:0.1" >SM</text>
<text x="660.5" y="43.6" font-size="8.3" text-anchor="start" textLength="11.6" lengthAdjust="spacingAndGlyphs" style="font-style:italic;stroke-width:0.1" >BP1</text>
<text x="660.5" y="56.3" font-size="8.3" text-anchor="start" textLength="11.6" lengthAdjust="spacingAndGlyphs" style="font-style:italic;stroke-width:0.1" >BP2</text>
<text x="103.6" y="10.9" font-size="14.6" text-anchor="start" textLength="80.2" lengthAdjust="spacingAndGlyphs" style="" >Cross Section for</text>
<text x="186.3" y="10.9" font-size="14.0" text-anchor="start" textLength="6.6" lengthAdjust="spacingAndGlyphs" style="font-style:italic" >e</text>
<rect x="194.7" y="2.6" width="4.1" height="1.0" fill="#1a1a1a"/>
<text x="200.6" y="10.9" font-size="14.0" text-anchor="start" textLength="6.6" lengthAdjust="spacingAndGlyphs" style="font-style:italic" >e</text>
<rect x="209" y="2.4" width="4.6" height="1.0" fill="#1a1a1a"/>
<rect x="210.8" y="0.2" width="1.0" height="5.4" fill="#1a1a1a"/>
<path d="M218,6.75 L223.54,6.75" stroke="#1a1a1a" stroke-width="1.1" fill="none"/><path d="M222.50,4.15 L225.10,6.75 L222.50,9.35" stroke="#1a1a1a" stroke-width="1.1" fill="none" stroke-linejoin="miter"/>
<text x="227.6" y="10.9" font-size="14.0" text-anchor="start" textLength="5.8" lengthAdjust="spacingAndGlyphs" style="font-style:italic" >γ</text>
<text x="233.4" y="10.9" font-size="14.0" text-anchor="start" textLength="6.2" lengthAdjust="spacingAndGlyphs" style="font-style:italic" >h</text>
<text x="239.4" y="12.7" font-size="9.0" text-anchor="start" textLength="3.8" lengthAdjust="spacingAndGlyphs" style="" >1</text>
<text x="462.7" y="10.9" font-size="14.6" text-anchor="start" textLength="80.2" lengthAdjust="spacingAndGlyphs" style="" >Cross Section for</text>
<text x="545.4" y="10.9" font-size="14.0" text-anchor="start" textLength="6.6" lengthAdjust="spacingAndGlyphs" style="font-style:italic" >e</text>
<rect x="554.3" y="2.6" width="4.5" height="1.0" fill="#1a1a1a"/>
<text x="560.1" y="10.9" font-size="14.0" text-anchor="start" textLength="5.9" lengthAdjust="spacingAndGlyphs" style="font-style:italic" >γ</text>
<path d="M567.6,6.75 L573.64,6.75" stroke="#1a1a1a" stroke-width="1.1" fill="none"/><path d="M572.60,4.15 L575.20,6.75 L572.60,9.35" stroke="#1a1a1a" stroke-width="1.1" fill="none" stroke-linejoin="miter"/>
<text x="577.6" y="10.9" font-size="14.0" text-anchor="start" textLength="6.6" lengthAdjust="spacingAndGlyphs" style="font-style:italic" >e</text>
<rect x="585.0" y="2.6" width="4.7" height="1.0" fill="#1a1a1a"/>
<text x="591.6" y="10.9" font-size="14.0" text-anchor="start" textLength="6.2" lengthAdjust="spacingAndGlyphs" style="font-style:italic" >h</text>
<text x="598.1999999999999" y="12.7" font-size="9.0" text-anchor="start" textLength="3.8" lengthAdjust="spacingAndGlyphs" style="" >1</text>
<path d="M156.6,284.3 L157.7,283.5 L159.4,287.7 L161.3,279.4 L166.8,279.4" class="sqrt"/>
<text x="161.5" y="287.0" font-size="9.8" text-anchor="start" textLength="4.9" lengthAdjust="spacingAndGlyphs" style="font-style:italic" >s</text>
<text x="168.7" y="287.0" font-size="9.6" text-anchor="start" textLength="20.9" lengthAdjust="spacingAndGlyphs" style="" >(GeV)</text>
<path d="M515.9,284.3 L517.0,283.5 L518.7,287.7 L520.6,279.4 L526.1,279.4" class="sqrt"/>
<text x="520.8" y="287.0" font-size="9.8" text-anchor="start" textLength="4.9" lengthAdjust="spacingAndGlyphs" style="font-style:italic" >s</text>
<text x="528.0" y="287.0" font-size="9.6" text-anchor="start" textLength="20.9" lengthAdjust="spacingAndGlyphs" style="" >(GeV)</text>
<text transform="translate(8.70,198.30) rotate(-90)" x="0" y="0" font-size="11.5" text-anchor="middle" style="font-style:italic;font-weight:normal;stroke-width:0.4">σ</text>
<text transform="translate(8.10,190.90) rotate(-90)" x="0" y="0" font-size="9.5" text-anchor="middle" style="font-style:normal;font-weight:normal;stroke-width:0.4">(</text>
<text transform="translate(8.70,184.55) rotate(-90)" x="0" y="0" font-size="11.5" text-anchor="middle" style="font-style:italic;font-weight:normal;stroke-width:0.4">e</text>
<rect x="1.20" y="171.30" width="1.2" height="6.00" fill="#111"/>
<text transform="translate(8.70,164.25) rotate(-90)" x="0" y="0" font-size="11.5" text-anchor="middle" style="font-style:italic;font-weight:normal;stroke-width:0.4">e</text>
<rect x="1.55" y="150.85" width="1.1" height="5.50" fill="#111"/><rect x="-0.00" y="153.05" width="4.20" height="1.1" fill="#111"/>
<path d="M4.799999999999999,143.6 L4.799999999999999,134.5" stroke="#111" stroke-width="1.2" fill="none"/><path d="M2.60,136.30 L4.799999999999999,133.5 L7.00,136.30" stroke="#111" stroke-width="1.2" fill="none"/>
<text transform="translate(7.20,127.40) rotate(-90)" x="0" y="0" font-size="11.5" text-anchor="middle" style="font-style:italic;font-weight:normal;stroke-width:0.4">γ</text>
<text transform="translate(8.70,119.50) rotate(-90)" x="0" y="0" font-size="11.5" text-anchor="middle" style="font-style:italic;font-weight:normal;stroke-width:0.4">h</text>
<text transform="translate(9.80,111.90) rotate(-90)" x="0" y="0" font-size="8" text-anchor="middle" style="font-style:normal;font-weight:normal;stroke-width:0.4">1</text>
<text transform="translate(8.10,105.15) rotate(-90)" x="0" y="0" font-size="9.5" text-anchor="middle" style="font-style:normal;font-weight:normal;stroke-width:0.4">)</text>
<text transform="translate(8.10,97.50) rotate(-90)" x="0" y="0" font-size="9.5" text-anchor="middle" style="font-style:normal;font-weight:normal;stroke-width:0.4">(</text>
<text transform="translate(8.70,93.00) rotate(-90)" x="0" y="0" font-size="11.5" text-anchor="middle" style="font-style:italic;font-weight:normal;stroke-width:0.4">f</text>
<text transform="translate(8.70,87.15) rotate(-90)" x="0" y="0" font-size="11.5" text-anchor="middle" style="font-style:italic;font-weight:normal;stroke-width:0.4">b</text>
<text transform="translate(8.10,79.70) rotate(-90)" x="0" y="0" font-size="9.5" text-anchor="middle" style="font-style:normal;font-weight:normal;stroke-width:0.4">)</text>
<text transform="translate(371.00,198.10) rotate(-90)" x="0" y="0" font-size="11.5" text-anchor="middle" style="font-style:italic;font-weight:normal;stroke-width:0.4">σ</text>
<text transform="translate(370.40,190.90) rotate(-90)" x="0" y="0" font-size="9.5" text-anchor="middle" style="font-style:normal;font-weight:normal;stroke-width:0.4">(</text>
<text transform="translate(371.00,184.75) rotate(-90)" x="0" y="0" font-size="11.5" text-anchor="middle" style="font-style:italic;font-weight:normal;stroke-width:0.4">e</text>
<rect x="363.70" y="171.20" width="1.2" height="6.10" fill="#111"/>
<text transform="translate(369.50,163.10) rotate(-90)" x="0" y="0" font-size="11.5" text-anchor="middle" style="font-style:italic;font-weight:normal;stroke-width:0.4">γ</text>
<path d="M367.1,156.8 L367.1,147.5" stroke="#111" stroke-width="1.2" fill="none"/><path d="M364.90,149.30 L367.1,146.5 L369.30,149.30" stroke="#111" stroke-width="1.2" fill="none"/>
<text transform="translate(371.00,139.85) rotate(-90)" x="0" y="0" font-size="11.5" text-anchor="middle" style="font-style:italic;font-weight:normal;stroke-width:0.4">e</text>
<rect x="363.90" y="126.10" width="1.2" height="6.00" fill="#111"/>
<text transform="translate(371.00,119.90) rotate(-90)" x="0" y="0" font-size="11.5" text-anchor="middle" style="font-style:italic;font-weight:normal;stroke-width:0.4">h</text>
<text transform="translate(372.10,111.80) rotate(-90)" x="0" y="0" font-size="8" text-anchor="middle" style="font-style:normal;font-weight:normal;stroke-width:0.4">1</text>
<text transform="translate(370.40,105.15) rotate(-90)" x="0" y="0" font-size="9.5" text-anchor="middle" style="font-style:normal;font-weight:normal;stroke-width:0.4">)</text>
<text transform="translate(370.40,97.50) rotate(-90)" x="0" y="0" font-size="9.5" text-anchor="middle" style="font-style:normal;font-weight:normal;stroke-width:0.4">(</text>
<text transform="translate(371.00,93.00) rotate(-90)" x="0" y="0" font-size="11.5" text-anchor="middle" style="font-style:italic;font-weight:normal;stroke-width:0.4">f</text>
<text transform="translate(371.00,87.15) rotate(-90)" x="0" y="0" font-size="11.5" text-anchor="middle" style="font-style:italic;font-weight:normal;stroke-width:0.4">b</text>
<text transform="translate(370.40,79.70) rotate(-90)" x="0" y="0" font-size="9.5" text-anchor="middle" style="font-style:normal;font-weight:normal;stroke-width:0.4">)</text>
</svg>
</body></html>
